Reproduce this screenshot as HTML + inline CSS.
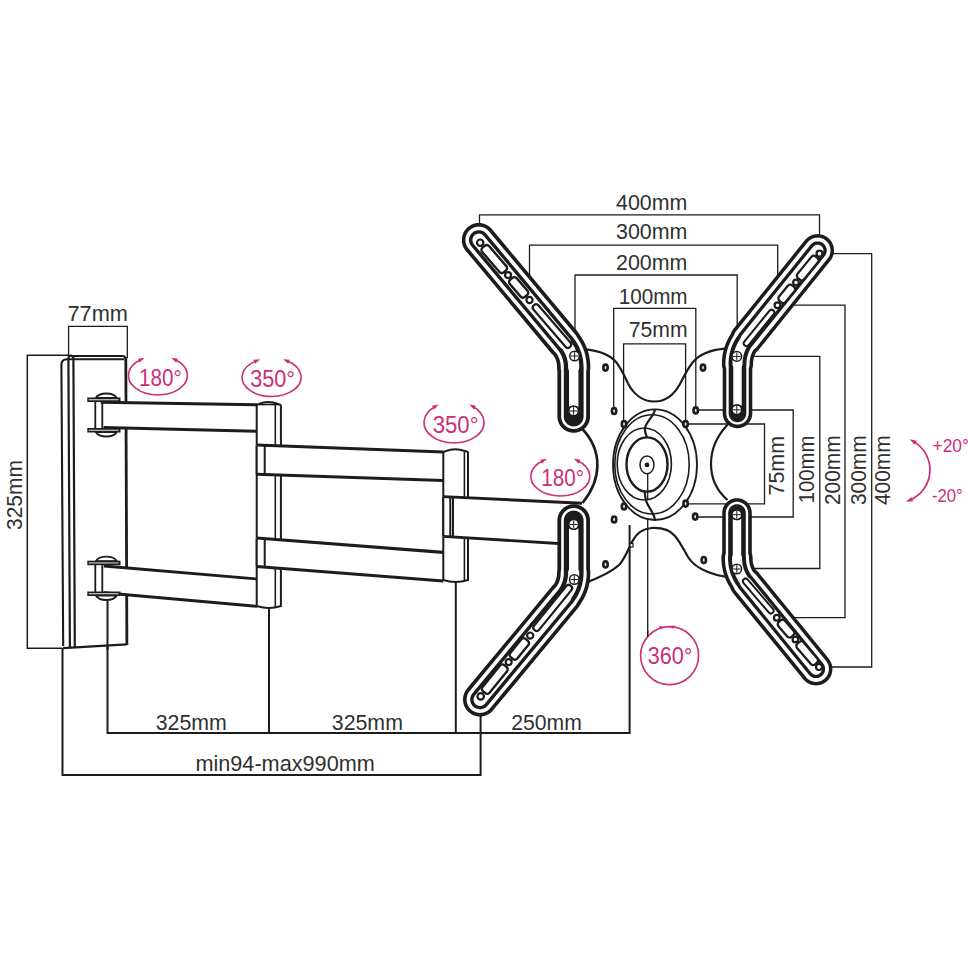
<!DOCTYPE html>
<html><head><meta charset="utf-8"><style>
html,body{margin:0;padding:0;background:#fff;}
svg{display:block;}
text{font-family:"Liberation Sans",sans-serif;}
</style></head><body>
<svg width="968" height="968" viewBox="0 0 968 968" font-family="Liberation Sans, sans-serif">
<rect width="968" height="968" fill="#fff"/>
<path d="M68.6,357 V326.4 H127.3 V358" fill="none" stroke="#1c1c1c" stroke-width="1.3"/>
<path d="M68.6,355.3 H27.3 V648.3 H62" fill="none" stroke="#1c1c1c" stroke-width="1.5"/>
<path d="M62.5,648 V775 H480.6 V712" fill="none" stroke="#1c1c1c" stroke-width="2.0"/>
<path d="M107.5,599 V733 H629.6 V525" fill="none" stroke="#1c1c1c" stroke-width="2.0"/>
<path d="M269,608 V733" fill="none" stroke="#1c1c1c" stroke-width="2.0"/>
<path d="M455.8,582 V733" fill="none" stroke="#1c1c1c" stroke-width="2.0"/>
<path d="M479.5,242 V214.8 H819.5 V252" fill="none" stroke="#1c1c1c" stroke-width="1.3"/>
<path d="M529.5,300 V245.2 H777.7 V305" fill="none" stroke="#1c1c1c" stroke-width="1.3"/>
<path d="M575,355 V275 H737.2 V356" fill="none" stroke="#1c1c1c" stroke-width="1.3"/>
<path d="M613.7,411 V308.4 H695.8 V410" fill="none" stroke="#1c1c1c" stroke-width="1.3"/>
<path d="M623.6,424 V343.8 H685.6 V424" fill="none" stroke="#1c1c1c" stroke-width="1.3"/>
<path d="M685.6,424 H764.5 V503.8 H685.6" fill="none" stroke="#1c1c1c" stroke-width="1.3"/>
<path d="M695.8,410 H793.2 V517 H695.4" fill="none" stroke="#1c1c1c" stroke-width="1.3"/>
<path d="M737,356.4 H819.8 V568.5 H736.6" fill="none" stroke="#1c1c1c" stroke-width="1.3"/>
<path d="M777.5,305.2 H845 V617.7 H776.8" fill="none" stroke="#1c1c1c" stroke-width="1.3"/>
<path d="M819.5,253.6 H871.7 V667 H819" fill="none" stroke="#1c1c1c" stroke-width="1.3"/>
<path d="M647.7,470 V637" fill="none" stroke="#1c1c1c" stroke-width="1.3"/>
<text x="67.5" y="320.7" font-size="21.6" fill="#303030" textLength="60.5" lengthAdjust="spacingAndGlyphs">77mm</text>
<text transform="translate(22.3,530) rotate(-90)" x="0" y="0" font-size="21.6" fill="#303030" textLength="70" lengthAdjust="spacingAndGlyphs">325mm</text>
<text x="155.7" y="729.6" font-size="21.6" fill="#303030" textLength="71.1" lengthAdjust="spacingAndGlyphs">325mm</text>
<text x="331.8" y="729.6" font-size="21.6" fill="#303030" textLength="71.1" lengthAdjust="spacingAndGlyphs">325mm</text>
<text x="511.2" y="729.6" font-size="21.6" fill="#303030" textLength="70.6" lengthAdjust="spacingAndGlyphs">250mm</text>
<text x="195.4" y="770.9" font-size="21.6" fill="#303030" textLength="179.4" lengthAdjust="spacingAndGlyphs">min94-max990mm</text>
<text x="616" y="209.8" font-size="21.6" fill="#303030" textLength="71.3" lengthAdjust="spacingAndGlyphs">400mm</text>
<text x="616" y="239.2" font-size="21.6" fill="#303030" textLength="71.3" lengthAdjust="spacingAndGlyphs">300mm</text>
<text x="616" y="270.2" font-size="21.6" fill="#303030" textLength="71.3" lengthAdjust="spacingAndGlyphs">200mm</text>
<text x="618.7" y="304" font-size="21.6" fill="#303030" textLength="68.9" lengthAdjust="spacingAndGlyphs">100mm</text>
<text x="628.7" y="336.6" font-size="21.6" fill="#303030" textLength="58.9" lengthAdjust="spacingAndGlyphs">75mm</text>
<text transform="translate(783.8,495.5) rotate(-90)" x="0" y="0" font-size="21.6" fill="#303030" textLength="59.5" lengthAdjust="spacingAndGlyphs">75mm</text>
<text transform="translate(814,503.3) rotate(-90)" x="0" y="0" font-size="21.6" fill="#303030" textLength="67.8" lengthAdjust="spacingAndGlyphs">100mm</text>
<text transform="translate(840.3,505) rotate(-90)" x="0" y="0" font-size="21.6" fill="#303030" textLength="69.5" lengthAdjust="spacingAndGlyphs">200mm</text>
<text transform="translate(866.4,505) rotate(-90)" x="0" y="0" font-size="21.6" fill="#303030" textLength="69.5" lengthAdjust="spacingAndGlyphs">300mm</text>
<text transform="translate(889.6,505) rotate(-90)" x="0" y="0" font-size="21.6" fill="#303030" textLength="69.5" lengthAdjust="spacingAndGlyphs">400mm</text>
<path d="M62.9,648 L61.4,365 Q61.4,359.2 67,359.2 L124,359.3 L126.9,644.4 Z" fill="#fff" stroke="none"/>
<path d="M62.9,648.2 L126.9,644.4" fill="none" stroke="#1c1c1c" stroke-width="2.2"/>
<path d="M63.2,646 L61.4,365 Q61.4,359.2 67,359.2 L124,359.3" fill="none" stroke="#1c1c1c" stroke-width="2.1"/>
<path d="M70.5,356 L122.5,356 Q125,356 125.8,359" fill="none" stroke="#1c1c1c" stroke-width="2.1"/>
<path d="M68.4,358 L69.9,647.5 M73.4,358 L74.8,647 M68.4,358 Q69,355.5 71,355.7 Q73.4,356 73.4,358.5" fill="none" stroke="#1c1c1c" stroke-width="2.2" stroke-linejoin="round"/>
<path d="M125.8,357.5 L126.9,645" fill="none" stroke="#1c1c1c" stroke-width="2.8"/>
<path d="M107.5,599 V650" fill="none" stroke="#1c1c1c" stroke-width="2"/>
<path d="M100.7,402.3 L257,404.8 L257,431.3 L103.6,427.5 Z" fill="#fff" stroke="none"/>
<path d="M100.7,402.3 L257,404.8 M103.6,427.5 L257,431.3" fill="none" stroke="#1c1c1c" stroke-width="2.9"/>
<path d="M103.9,566 L257.3,579 L257.3,606.4 L103.9,592.7 Z" fill="#fff" stroke="none"/>
<path d="M103.9,566 L257.3,579 M103.9,592.7 L257.3,606.4" fill="none" stroke="#1c1c1c" stroke-width="2.9"/>
<path d="M95.8,398 C99.3,392 113.3,392 116.8,398 Z" fill="#fff" stroke="#1c1c1c" stroke-width="1.8"/>
<path d="M95.8,432 C99.3,438 113.3,438 116.8,432 Z" fill="#fff" stroke="#1c1c1c" stroke-width="1.8"/>
<rect x="87.3" y="397.5" width="33.2" height="4.5" fill="#1c1c1c"/>
<path d="M88.8,399.75 H118.5" stroke="#fff" stroke-width="0.9"/>
<rect x="87.3" y="428" width="33.2" height="4.5" fill="#1c1c1c"/>
<path d="M88.8,430.25 H118.5" stroke="#fff" stroke-width="0.9"/>
<path d="M95.3,401.5 V428.5 M102.3,401.5 V428.5" fill="none" stroke="#1c1c1c" stroke-width="1.8"/>
<path d="M95.8,561.2 C99.3,555.2 113.3,555.2 116.8,561.2 Z" fill="#fff" stroke="#1c1c1c" stroke-width="1.8"/>
<path d="M95.8,595.5 C99.3,601.5 113.3,601.5 116.8,595.5 Z" fill="#fff" stroke="#1c1c1c" stroke-width="1.8"/>
<rect x="87.3" y="560.7" width="33.2" height="4.5" fill="#1c1c1c"/>
<path d="M88.8,562.95 H118.5" stroke="#fff" stroke-width="0.9"/>
<rect x="87.3" y="591.5" width="33.2" height="4.5" fill="#1c1c1c"/>
<path d="M88.8,593.75 H118.5" stroke="#fff" stroke-width="0.9"/>
<path d="M95.3,564.7 V592 M102.3,564.7 V592" fill="none" stroke="#1c1c1c" stroke-width="1.8"/>
<path d="M256.7,606 V406 Q256.7,404.5 259,404 Q268,400 278,404 Q280.9,404.5 280.9,406 V606 Q269,610 256.7,606 Z" fill="#fff" stroke="#1c1c1c" stroke-width="2"/>
<path d="M275.3,405 V607" fill="none" stroke="#1c1c1c" stroke-width="1.6"/>
<path d="M259,404.5 L279,404.5" fill="none" stroke="#1c1c1c" stroke-width="1.6"/>
<path d="M256.7,445 L443.3,452 L443.3,480.5 L256.7,474.3 Z" fill="#fff" stroke="none"/>
<path d="M256.7,445 L443.3,452 M256.7,474.3 L443.3,480.5" fill="none" stroke="#1c1c1c" stroke-width="3.1"/>
<path d="M256.7,538 L443.3,552.4 L443.3,581 L256.7,566.5 Z" fill="#fff" stroke="none"/>
<path d="M256.7,538 L443.3,552.4 M256.7,566.5 L443.3,581" fill="none" stroke="#1c1c1c" stroke-width="3.1"/>
<path d="M264.7,446 V474 M264.7,539 V566 M256.7,446 V474 M256.7,539 V566" fill="none" stroke="#1c1c1c" stroke-width="2"/>
<path d="M443.3,580 V453 Q443.3,451.5 446,451 Q455,447.5 465,451 Q468,451.5 468,453 V580 Q455.5,584 443.3,580 Z" fill="#fff" stroke="#1c1c1c" stroke-width="2"/>
<path d="M464.4,452 V581" fill="none" stroke="#1c1c1c" stroke-width="1.6"/>
<path d="M443.3,496.6 L582,503.2 L566,544 L443.3,536.4 Z" fill="#fff" stroke="none"/>
<path d="M443.3,496.6 L582,503.2 M443.3,536.4 L566,544" fill="none" stroke="#1c1c1c" stroke-width="2.9"/>
<path d="M450.3,497 V536 M453,497.5 V536.5 M443.3,497 V536" fill="none" stroke="#1c1c1c" stroke-width="2"/>
<path d="M586,349.4 C600,351 610,355 616,362 C621,368 624,375 628,383.4 C633,393 642,401.5 654.4,401.5 C667,401.5 675,393 680,384 C684,376 688,368 693,362 C699,355 710,350 725,348.7" fill="none" stroke="#1c1c1c" stroke-width="2.2"/>
<path d="M581.5,428 C593,440 597.4,452 597.4,465 C597.4,478 593,490 582.5,503" fill="none" stroke="#1c1c1c" stroke-width="2.6"/>
<path d="M727.5,424.8 C716,437 711,450 711,464 C711,478 716,490 727.5,500" fill="none" stroke="#1c1c1c" stroke-width="2.2"/>
<path d="M586,582.6 C598,578 612,572 620,564 C625,558 628,550 632,542 C636,534 642,528.5 652,528 C662,527.6 670,530 675,536 C680,542 684,550 688,557 C693,565 700,569 708,572 C714,574.5 719,575.8 725,576.6" fill="none" stroke="#1c1c1c" stroke-width="2.2"/>
<rect x="630" y="543.5" width="3" height="3.5" fill="#fff" stroke="#1c1c1c" stroke-width="1.2"/>
<ellipse cx="655" cy="464.7" rx="42" ry="55.3" fill="#fff" stroke="#1c1c1c" stroke-width="1.8"/>
<ellipse cx="652" cy="464.4" rx="37.2" ry="49.6" fill="none" stroke="#1c1c1c" stroke-width="1.6"/>
<ellipse cx="644.3" cy="464" rx="27.1" ry="36" fill="none" stroke="#1c1c1c" stroke-width="1.6"/>
<ellipse cx="647" cy="464.5" rx="20.5" ry="27.1" fill="none" stroke="#1c1c1c" stroke-width="2.4"/>
<ellipse cx="647" cy="464.8" rx="7" ry="8.9" fill="none" stroke="#1c1c1c" stroke-width="1.5"/>
<circle cx="647" cy="464.9" r="2.4" fill="#1c1c1c"/>
<path d="M655,409.5 C654,416 646,422 645,428 C644.5,432 646,435 647,437.5 M645,491 C644.5,495 645.5,498 646,500 C647,506 654,512 655,520" fill="none" stroke="#1c1c1c" stroke-width="2.2"/>
<path d="M647.7,474 V500" fill="none" stroke="#1c1c1c" stroke-width="1.3"/>
<ellipse cx="605.5" cy="367.6" rx="2.2" ry="3" fill="#eee" stroke="#1c1c1c" stroke-width="2.6"/>
<ellipse cx="703" cy="367.6" rx="2.2" ry="3" fill="#eee" stroke="#1c1c1c" stroke-width="2.6"/>
<ellipse cx="614.1" cy="411" rx="2.2" ry="3" fill="#eee" stroke="#1c1c1c" stroke-width="2.6"/>
<ellipse cx="695.7" cy="410.4" rx="2.2" ry="3" fill="#eee" stroke="#1c1c1c" stroke-width="2.6"/>
<ellipse cx="624" cy="424" rx="2.2" ry="3" fill="#eee" stroke="#1c1c1c" stroke-width="2.6"/>
<ellipse cx="685.6" cy="424" rx="2.2" ry="3" fill="#eee" stroke="#1c1c1c" stroke-width="2.6"/>
<ellipse cx="624" cy="506.5" rx="2.2" ry="3" fill="#eee" stroke="#1c1c1c" stroke-width="2.6"/>
<ellipse cx="685.6" cy="503.6" rx="2.2" ry="3" fill="#eee" stroke="#1c1c1c" stroke-width="2.6"/>
<ellipse cx="614.1" cy="519.5" rx="2.2" ry="3" fill="#eee" stroke="#1c1c1c" stroke-width="2.6"/>
<ellipse cx="695.2" cy="516.6" rx="2.2" ry="3" fill="#eee" stroke="#1c1c1c" stroke-width="2.6"/>
<ellipse cx="605.5" cy="564.4" rx="2.2" ry="3" fill="#eee" stroke="#1c1c1c" stroke-width="2.6"/>
<ellipse cx="703.8" cy="560" rx="2.2" ry="3" fill="#eee" stroke="#1c1c1c" stroke-width="2.6"/>
<path d="M552.77,354.84 L552.86,354.93 L553.23,355.26 L553.69,355.81 L554.22,356.66 L554.29,356.78 L554.81,357.74 L554.88,357.87 L555.33,358.83 L555.39,358.96 L555.77,359.93 L555.82,360.07 L556.15,361.06 L556.19,361.2 L556.46,362.22 L556.49,362.37 L556.7,363.43 L556.73,363.57 L556.89,364.7 L556.9,364.84 L557,366.03 L557.01,366.17 L557.06,367.92 L557.06,367.98 L557.18,369.52 L557.19,369.64 L557.36,370.61 L557.4,371.05 L557.4,416.47 L557.4,416.53 L557.48,418.04 L557.49,418.16 L557.7,419.62 L557.73,419.74 L558.09,421.17 L558.12,421.29 L558.62,422.68 L558.67,422.79 L559.3,424.13 L559.36,424.24 L560.12,425.5 L560.18,425.61 L561.06,426.79 L561.14,426.89 L562.13,427.98 L562.22,428.07 L563.31,429.06 L563.41,429.14 L564.59,430.02 L564.7,430.08 L565.96,430.84 L566.07,430.9 L567.41,431.53 L567.52,431.58 L568.91,432.08 L569.03,432.11 L570.46,432.47 L570.58,432.5 L572.04,432.71 L572.16,432.72 L573.64,432.8 L573.76,432.8 L575.24,432.72 L575.36,432.71 L576.82,432.5 L576.94,432.47 L578.37,432.11 L578.49,432.08 L579.88,431.58 L579.99,431.53 L581.33,430.9 L581.44,430.84 L582.7,430.08 L582.81,430.02 L583.99,429.14 L584.09,429.06 L585.18,428.07 L585.27,427.98 L586.26,426.89 L586.34,426.79 L587.22,425.61 L587.28,425.5 L588.04,424.24 L588.1,424.13 L588.73,422.79 L588.78,422.68 L589.28,421.29 L589.31,421.17 L589.67,419.74 L589.7,419.62 L589.91,418.16 L589.92,418.04 L590,416.53 L590,416.47 L590,371.08 L590.06,370.54 L590.1,370.37 L590.12,370.25 L590.3,368.75 L590.31,368.62 L590.34,367.08 L590.34,367.02 L590.28,364.76 L590.28,364.72 L590.23,363.84 L590.23,363.8 L590.05,361.57 L590.04,361.54 L589.94,360.63 L589.94,360.59 L589.63,358.41 L589.62,358.37 L589.47,357.45 L589.46,357.41 L589.03,355.27 L589.02,355.23 L588.81,354.3 L588.8,354.27 L588.25,352.17 L588.24,352.14 L587.96,351.21 L587.95,351.18 L587.28,349.13 L587.26,349.09 L586.93,348.18 L586.92,348.15 L586.12,346.14 L586.11,346.11 L585.73,345.22 L585.71,345.19 L584.79,343.23 L584.77,343.19 L584.34,342.34 L584.33,342.31 L583.28,340.39 L583.26,340.36 L582.79,339.55 L582.77,339.52 L581.61,337.65 L581.59,337.62 L581.08,336.85 L581.06,336.82 L580.06,335.4 L579.85,335.04 L579.67,334.66 L579.61,334.56 L578.8,333.24 L578.73,333.14 L577.78,331.88 L577.74,331.83 L491.86,229.12 L491.82,229.07 L490.75,227.91 L490.66,227.83 L489.51,226.8 L489.41,226.72 L488.16,225.82 L488.06,225.75 L486.73,224.97 L486.62,224.91 L485.22,224.26 L485.1,224.21 L483.64,223.71 L483.53,223.67 L482.02,223.31 L481.9,223.29 L480.37,223.08 L480.25,223.06 L478.71,223 L478.58,223 L477.04,223.09 L476.92,223.11 L475.39,223.35 L475.27,223.37 L473.78,223.76 L473.66,223.8 L472.21,224.33 L472.1,224.38 L470.7,225.05 L470.6,225.11 L469.28,225.92 L469.18,225.99 L467.94,226.92 L467.85,227 L466.71,228.05 L466.63,228.14 L465.6,229.29 L465.52,229.39 L464.62,230.64 L464.55,230.74 L463.77,232.07 L463.71,232.18 L463.06,233.58 L463.01,233.7 L462.51,235.16 L462.47,235.27 L462.11,236.78 L462.09,236.9 L461.88,238.43 L461.86,238.55 L461.8,240.09 L461.8,240.22 L461.89,241.76 L461.91,241.88 L462.15,243.41 L462.17,243.53 L462.56,245.02 L462.6,245.14 L463.13,246.59 L463.18,246.7 L463.85,248.1 L463.91,248.2 L464.72,249.52 L464.79,249.62 L465.74,250.88 L465.78,250.93 L551.66,353.64 L551.7,353.69 Z" fill="#1c1c1c"/>
<path d="M555.29,352.28 L555.38,352.36 L556.28,353.17 L556.74,353.71 L557.42,354.79 L557.49,354.92 L558.11,356.07 L558.18,356.2 L558.72,357.35 L558.78,357.49 L559.25,358.67 L559.3,358.81 L559.69,360.01 L559.74,360.15 L560.06,361.38 L560.1,361.53 L560.35,362.81 L560.38,362.95 L560.57,364.29 L560.58,364.43 L560.7,365.83 L560.7,365.97 L560.75,367.82 L560.76,367.88 L560.85,369.06 L560.86,369.18 L561.06,370.31 L561.09,370.43 L561.11,370.5 L561.2,371.17 L561.2,416.47 L561.2,416.53 L561.26,417.66 L561.27,417.79 L561.43,418.88 L561.46,419 L561.72,420.07 L561.76,420.19 L562.13,421.23 L562.18,421.34 L562.65,422.34 L562.71,422.45 L563.28,423.39 L563.34,423.49 L564,424.38 L564.08,424.48 L564.82,425.29 L564.91,425.38 L565.72,426.12 L565.82,426.2 L566.71,426.86 L566.81,426.92 L567.75,427.49 L567.86,427.55 L568.86,428.02 L568.97,428.07 L570.01,428.44 L570.13,428.48 L571.2,428.74 L571.32,428.77 L572.41,428.93 L572.54,428.94 L573.64,429 L573.76,429 L574.86,428.94 L574.99,428.93 L576.08,428.77 L576.2,428.74 L577.27,428.48 L577.39,428.44 L578.43,428.07 L578.54,428.02 L579.54,427.55 L579.65,427.49 L580.59,426.92 L580.69,426.86 L581.58,426.2 L581.68,426.12 L582.49,425.38 L582.58,425.29 L583.32,424.48 L583.4,424.38 L584.06,423.49 L584.12,423.39 L584.69,422.45 L584.75,422.34 L585.22,421.34 L585.27,421.23 L585.64,420.19 L585.68,420.07 L585.94,419 L585.97,418.88 L586.13,417.79 L586.14,417.66 L586.2,416.53 L586.2,416.47 L586.2,371.15 L586.26,370.61 L586.45,369.74 L586.47,369.62 L586.61,368.48 L586.62,368.36 L586.64,367.18 L586.64,367.12 L586.58,364.86 L586.58,364.82 L586.54,364.14 L586.54,364.11 L586.36,361.88 L586.35,361.84 L586.28,361.14 L586.27,361.11 L585.97,358.92 L585.96,358.88 L585.84,358.17 L585.83,358.14 L585.4,356 L585.39,355.96 L585.23,355.25 L585.22,355.21 L584.67,353.12 L584.66,353.08 L584.45,352.37 L584.44,352.33 L583.76,350.28 L583.75,350.25 L583.5,349.55 L583.48,349.51 L582.68,347.51 L582.67,347.47 L582.38,346.79 L582.36,346.76 L581.44,344.8 L581.42,344.76 L581.09,344.11 L581.08,344.08 L580.03,342.16 L580.01,342.13 L579.65,341.51 L579.63,341.47 L578.47,339.6 L578.45,339.57 L578.06,338.98 L578.04,338.95 L577.23,337.81 L577.02,337.45 L576.51,336.39 L576.45,336.28 L575.82,335.27 L575.76,335.16 L575.02,334.19 L574.98,334.14 L489.1,231.43 L489.06,231.38 L488.23,230.48 L488.14,230.4 L487.25,229.61 L487.16,229.53 L486.19,228.83 L486.09,228.76 L485.06,228.16 L484.95,228.1 L483.87,227.6 L483.76,227.55 L482.63,227.16 L482.51,227.13 L481.35,226.85 L481.23,226.83 L480.05,226.66 L479.93,226.65 L478.74,226.6 L478.62,226.6 L477.43,226.67 L477.3,226.69 L476.13,226.87 L476.01,226.9 L474.85,227.2 L474.74,227.23 L473.62,227.65 L473.5,227.69 L472.43,228.21 L472.32,228.27 L471.31,228.89 L471.2,228.96 L470.25,229.68 L470.16,229.76 L469.28,230.57 L469.2,230.66 L468.41,231.55 L468.33,231.64 L467.63,232.61 L467.56,232.71 L466.96,233.74 L466.9,233.85 L466.4,234.93 L466.35,235.04 L465.96,236.17 L465.93,236.29 L465.65,237.45 L465.63,237.57 L465.46,238.75 L465.45,238.87 L465.4,240.06 L465.4,240.18 L465.47,241.37 L465.49,241.5 L465.67,242.67 L465.7,242.79 L466,243.95 L466.03,244.06 L466.45,245.18 L466.49,245.3 L467.01,246.37 L467.07,246.48 L467.69,247.49 L467.76,247.6 L468.5,248.57 L468.54,248.62 L554.42,351.33 L554.46,351.38 Z" fill="#fff"/>
<path d="M486.34,233.74 L486.3,233.69 L485.71,233.05 L485.62,232.97 L484.99,232.41 L484.9,232.33 L484.22,231.84 L484.12,231.77 L483.39,231.35 L483.28,231.29 L482.52,230.94 L482.41,230.89 L481.62,230.62 L481.5,230.58 L480.68,230.39 L480.56,230.36 L479.73,230.25 L479.61,230.24 L478.77,230.2 L478.65,230.2 L477.81,230.25 L477.69,230.27 L476.86,230.4 L476.74,230.42 L475.93,230.63 L475.81,230.67 L475.02,230.96 L474.91,231.01 L474.16,231.37 L474.05,231.43 L473.33,231.87 L473.23,231.94 L472.56,232.44 L472.47,232.52 L471.85,233.09 L471.77,233.18 L471.21,233.81 L471.13,233.9 L470.64,234.58 L470.57,234.68 L470.15,235.41 L470.09,235.52 L469.74,236.28 L469.69,236.39 L469.42,237.18 L469.38,237.3 L469.19,238.12 L469.16,238.24 L469.05,239.07 L469.04,239.19 L469,240.03 L469,240.15 L469.05,240.99 L469.07,241.11 L469.2,241.94 L469.22,242.06 L469.43,242.87 L469.47,242.99 L469.76,243.78 L469.81,243.89 L470.17,244.64 L470.23,244.75 L470.67,245.47 L470.74,245.57 L471.26,246.26 L471.3,246.31 L556.58,348.3 L556.7,348.45 L556.98,348.85 L557.01,348.9 L558.22,350.42 L558.3,350.53 L559.21,351.82 L559.29,351.94 L560.1,353.23 L560.17,353.36 L560.88,354.67 L560.95,354.8 L561.57,356.12 L561.63,356.26 L562.16,357.61 L562.22,357.75 L562.67,359.13 L562.71,359.27 L563.08,360.68 L563.12,360.83 L563.41,362.29 L563.43,362.43 L563.65,363.94 L563.66,364.09 L563.79,365.66 L563.8,365.8 L563.83,366.8 L563.83,366.99 L563.8,367.47 L563.8,367.53 L563.8,416.47 L563.8,416.53 L563.84,417.41 L563.86,417.53 L563.98,418.37 L564.01,418.49 L564.21,419.31 L564.25,419.43 L564.53,420.23 L564.58,420.34 L564.94,421.11 L565,421.22 L565.44,421.95 L565.51,422.05 L566.01,422.73 L566.09,422.83 L566.66,423.45 L566.75,423.54 L567.37,424.11 L567.47,424.19 L568.15,424.69 L568.25,424.76 L568.98,425.2 L569.09,425.26 L569.86,425.62 L569.97,425.67 L570.77,425.95 L570.89,425.99 L571.71,426.19 L571.83,426.22 L572.67,426.34 L572.79,426.36 L573.64,426.4 L573.76,426.4 L574.61,426.36 L574.73,426.34 L575.57,426.22 L575.69,426.19 L576.51,425.99 L576.63,425.95 L577.43,425.67 L577.54,425.62 L578.31,425.26 L578.42,425.2 L579.15,424.76 L579.25,424.69 L579.93,424.19 L580.03,424.11 L580.65,423.54 L580.74,423.45 L581.31,422.83 L581.39,422.73 L581.89,422.05 L581.96,421.95 L582.4,421.22 L582.46,421.11 L582.82,420.34 L582.87,420.23 L583.15,419.43 L583.19,419.31 L583.39,418.49 L583.42,418.37 L583.54,417.53 L583.56,417.41 L583.6,416.53 L583.6,416.47 L583.6,367.53 L583.6,367.47 L583.56,366.59 L583.54,366.41 L583.54,366.41 L583.52,366.17 L583.48,364.94 L583.48,364.91 L583.46,364.4 L583.45,364.36 L583.27,362.13 L583.27,362.1 L583.21,361.57 L583.2,361.54 L582.9,359.35 L582.89,359.32 L582.8,358.78 L582.79,358.75 L582.36,356.61 L582.36,356.57 L582.23,356.04 L582.22,356 L581.67,353.91 L581.66,353.87 L581.5,353.34 L581.49,353.3 L580.82,351.25 L580.8,351.22 L580.61,350.69 L580.6,350.66 L579.8,348.65 L579.79,348.62 L579.57,348.11 L579.55,348.07 L578.63,346.12 L578.62,346.08 L578.37,345.59 L578.35,345.56 L577.31,343.64 L577.29,343.61 L577.02,343.14 L577,343.11 L575.84,341.24 L575.82,341.21 L575.52,340.77 L575.5,340.74 L574.22,338.91 L574.19,338.88 L573.89,338.47 L573.87,338.45 L572.46,336.67 L572.42,336.62 L571.85,335.97 L571.72,335.83 L571.72,335.83 L571.56,335.66 Z" fill="#1c1c1c"/>
<path d="M560.19,347.28 L560.28,347.37 L560.66,347.7 L560.75,347.78 L561.16,348.08 L561.27,348.14 L561.7,348.4 L561.74,348.42 L562.22,348.75 L562.62,349.19 L562.79,349.44 L562.87,349.56 L563.81,351.07 L563.89,351.19 L564.72,352.72 L564.79,352.86 L565.52,354.41 L565.58,354.55 L566.21,356.14 L566.26,356.28 L566.79,357.9 L566.84,358.05 L567.27,359.71 L567.31,359.86 L567.65,361.56 L567.68,361.71 L567.92,363.47 L567.94,363.61 L568.09,365.42 L568.1,365.56 L568.15,367.62 L568.15,367.68 L568.19,368.13 L568.2,368.25 L568.28,368.67 L568.3,368.79 L568.42,369.19 L568.46,369.31 L568.61,369.7 L568.66,369.82 L568.73,369.96 L568.93,370.51 L569,371.09 L569,416.47 L569,416.53 L569.02,416.9 L569.03,417.02 L569.08,417.36 L569.11,417.48 L569.19,417.8 L569.22,417.92 L569.34,418.24 L569.38,418.35 L569.53,418.66 L569.59,418.77 L569.76,419.06 L569.83,419.16 L570.03,419.43 L570.11,419.53 L570.34,419.78 L570.42,419.86 L570.67,420.09 L570.77,420.17 L571.04,420.37 L571.14,420.44 L571.43,420.61 L571.54,420.67 L571.85,420.82 L571.96,420.86 L572.28,420.98 L572.4,421.01 L572.72,421.09 L572.84,421.12 L573.18,421.17 L573.3,421.18 L573.64,421.2 L573.76,421.2 L574.1,421.18 L574.22,421.17 L574.56,421.12 L574.68,421.09 L575,421.01 L575.12,420.98 L575.44,420.86 L575.55,420.82 L575.86,420.67 L575.97,420.61 L576.26,420.44 L576.36,420.37 L576.63,420.17 L576.73,420.09 L576.98,419.86 L577.06,419.78 L577.29,419.53 L577.37,419.43 L577.57,419.16 L577.64,419.06 L577.81,418.77 L577.87,418.66 L578.02,418.35 L578.06,418.24 L578.18,417.92 L578.21,417.8 L578.29,417.48 L578.32,417.36 L578.37,417.02 L578.38,416.9 L578.4,416.53 L578.4,416.47 L578.4,371.09 L578.47,370.52 L578.66,369.98 L578.69,369.93 L578.86,369.54 L578.9,369.43 L579.03,369.03 L579.07,368.91 L579.16,368.5 L579.18,368.37 L579.23,367.96 L579.24,367.83 L579.25,367.38 L579.25,367.32 L579.19,365.06 L579.18,365.02 L579.17,364.75 L579.17,364.72 L578.98,362.48 L578.98,362.45 L578.95,362.17 L578.94,362.13 L578.64,359.95 L578.63,359.91 L578.58,359.63 L578.58,359.59 L578.15,357.45 L578.14,357.42 L578.07,357.13 L578.06,357.1 L577.51,355 L577.5,354.97 L577.42,354.68 L577.41,354.65 L576.73,352.6 L576.72,352.56 L576.62,352.28 L576.61,352.25 L575.81,350.24 L575.79,350.21 L575.68,349.94 L575.66,349.9 L574.74,347.94 L574.72,347.91 L574.59,347.65 L574.57,347.61 L573.53,345.7 L573.51,345.67 L573.37,345.42 L573.35,345.38 L572.18,343.51 L572.17,343.48 L572.01,343.25 L571.99,343.22 L571.38,342.35 L571.13,341.91 L570.98,341.42 L570.97,341.39 L570.84,340.91 L570.81,340.79 L570.63,340.31 L570.58,340.2 L570.36,339.75 L570.3,339.64 L570.04,339.21 L569.97,339.11 L569.65,338.68 L569.61,338.63 L483.73,235.92 L483.69,235.87 L483.33,235.48 L483.24,235.39 L482.86,235.06 L482.77,234.98 L482.36,234.68 L482.25,234.62 L481.82,234.36 L481.71,234.3 L481.25,234.09 L481.14,234.04 L480.66,233.88 L480.54,233.84 L480.05,233.73 L479.93,233.7 L479.43,233.63 L479.31,233.62 L478.8,233.6 L478.68,233.6 L478.18,233.63 L478.05,233.65 L477.55,233.73 L477.43,233.75 L476.95,233.88 L476.83,233.91 L476.35,234.09 L476.24,234.14 L475.79,234.36 L475.68,234.42 L475.25,234.68 L475.15,234.75 L474.74,235.05 L474.65,235.13 L474.28,235.47 L474.19,235.56 L473.86,235.94 L473.78,236.03 L473.48,236.44 L473.42,236.55 L473.16,236.98 L473.1,237.09 L472.89,237.55 L472.84,237.66 L472.68,238.14 L472.64,238.26 L472.53,238.75 L472.5,238.87 L472.43,239.37 L472.42,239.49 L472.4,240 L472.4,240.12 L472.43,240.62 L472.45,240.75 L472.53,241.25 L472.55,241.37 L472.68,241.85 L472.71,241.97 L472.89,242.45 L472.94,242.56 L473.16,243.01 L473.22,243.12 L473.48,243.55 L473.55,243.65 L473.87,244.08 L473.91,244.13 L559.79,346.84 L559.83,346.89 Z" fill="#fff"/>
<circle cx="480.2" cy="242.7" r="3.2" fill="#fff" stroke="#1c1c1c" stroke-width="2.2"/>
<rect x="-16.25" y="-4.5" width="32.5" height="9" rx="3" fill="#fff" stroke="#1c1c1c" stroke-width="2.4" transform="translate(494.25,259.03) rotate(49.29)"/>
<circle cx="508.05" cy="275.07" r="3" fill="#fff" stroke="#1c1c1c" stroke-width="2.2"/>
<rect x="-11.34" y="-4.5" width="22.68" height="9" rx="3" fill="#fff" stroke="#1c1c1c" stroke-width="2.4" transform="translate(518.65,287.39) rotate(49.29)"/>
<circle cx="529.5" cy="300" r="3.1" fill="#fff" stroke="#1c1c1c" stroke-width="2.2"/>
<rect x="-27.59" y="-3.25" width="55.18" height="6.5" rx="3" fill="#fff" stroke="#1c1c1c" stroke-width="2.2" transform="translate(551.93,326.07) rotate(49.29)"/>
<circle cx="573.65" cy="413.75" r="8.35" fill="#1c1c1c"/>
<circle cx="574.6" cy="356" r="4.8" fill="#fff" stroke="#1c1c1c" stroke-width="1.5"/>
<path d="M570.8,356 H578.4 M574.6,352.2 V359.8" stroke="#1c1c1c" stroke-width="1"/>
<circle cx="573.6" cy="411" r="4.8" fill="#fff" stroke="#1c1c1c" stroke-width="1.5"/>
<path d="M569.8,411 H577.4 M573.6,407.2 V414.8" stroke="#1c1c1c" stroke-width="1"/>
<path d="M553.69,584.36 L553.23,584.91 L552.85,585.25 L552.76,585.33 L551.7,586.49 L551.66,586.54 L466.94,688.62 L466.9,688.67 L465.95,689.93 L465.89,690.03 L465.08,691.35 L465.03,691.46 L464.36,692.85 L464.31,692.97 L463.78,694.42 L463.74,694.54 L463.36,696.03 L463.34,696.15 L463.1,697.68 L463.09,697.8 L463,699.35 L463,699.47 L463.07,701.01 L463.08,701.13 L463.3,702.66 L463.32,702.78 L463.69,704.29 L463.73,704.4 L464.24,705.86 L464.28,705.97 L464.94,707.38 L464.99,707.48 L465.78,708.81 L465.85,708.92 L466.76,710.16 L466.84,710.26 L467.87,711.41 L467.96,711.5 L469.1,712.54 L469.19,712.62 L470.43,713.55 L470.53,713.61 L471.85,714.42 L471.96,714.47 L473.35,715.14 L473.47,715.19 L474.92,715.72 L475.04,715.76 L476.53,716.14 L476.65,716.16 L478.18,716.4 L478.3,716.41 L479.85,716.5 L479.97,716.5 L481.51,716.43 L481.63,716.42 L483.16,716.2 L483.28,716.18 L484.79,715.81 L484.9,715.77 L486.36,715.26 L486.47,715.22 L487.88,714.56 L487.98,714.51 L489.31,713.72 L489.42,713.65 L490.66,712.74 L490.76,712.66 L491.91,711.63 L492,711.54 L493.06,710.38 L493.1,710.33 L577.82,608.25 L577.86,608.21 L578.8,606.94 L578.87,606.84 L579.68,605.52 L579.73,605.41 L579.92,605.04 L580.12,604.68 L581.12,603.25 L581.14,603.23 L581.64,602.46 L581.66,602.43 L582.82,600.56 L582.84,600.53 L583.31,599.72 L583.33,599.69 L584.36,597.77 L584.38,597.73 L584.81,596.89 L584.82,596.85 L585.74,594.89 L585.75,594.85 L586.13,593.97 L586.15,593.94 L586.94,591.93 L586.96,591.9 L587.28,590.99 L587.29,590.95 L587.97,588.9 L587.98,588.87 L588.25,587.95 L588.26,587.91 L588.81,585.81 L588.82,585.78 L589.03,584.85 L589.04,584.82 L589.47,582.68 L589.47,582.64 L589.63,581.72 L589.63,581.68 L589.94,579.5 L589.94,579.46 L590.04,578.56 L590.05,578.52 L590.23,576.29 L590.23,576.26 L590.28,575.38 L590.28,575.34 L590.34,573.08 L590.34,573.02 L590.31,571.47 L590.3,571.35 L590.12,569.85 L590.1,569.73 L590.06,569.56 L590,569.02 L590,520.53 L590,520.47 L589.92,518.96 L589.91,518.84 L589.7,517.38 L589.67,517.26 L589.31,515.83 L589.28,515.71 L588.78,514.32 L588.73,514.21 L588.1,512.87 L588.04,512.76 L587.28,511.5 L587.22,511.39 L586.34,510.21 L586.26,510.11 L585.27,509.02 L585.18,508.93 L584.09,507.94 L583.99,507.86 L582.81,506.98 L582.7,506.92 L581.44,506.16 L581.33,506.1 L579.99,505.47 L579.88,505.42 L578.49,504.92 L578.37,504.89 L576.94,504.53 L576.82,504.5 L575.36,504.29 L575.24,504.28 L573.76,504.2 L573.64,504.2 L572.16,504.28 L572.04,504.29 L570.58,504.5 L570.46,504.53 L569.03,504.89 L568.91,504.92 L567.52,505.42 L567.41,505.47 L566.07,506.1 L565.96,506.16 L564.7,506.92 L564.59,506.98 L563.41,507.86 L563.31,507.94 L562.22,508.93 L562.13,509.02 L561.14,510.11 L561.06,510.21 L560.18,511.39 L560.12,511.5 L559.36,512.76 L559.3,512.87 L558.67,514.21 L558.62,514.32 L558.12,515.71 L558.09,515.83 L557.73,517.26 L557.7,517.38 L557.49,518.84 L557.48,518.96 L557.4,520.47 L557.4,520.53 L557.4,569.05 L557.36,569.49 L557.19,570.46 L557.18,570.58 L557.06,572.12 L557.06,572.18 L557.01,573.94 L557,574.07 L556.9,575.27 L556.89,575.41 L556.73,576.54 L556.7,576.68 L556.49,577.76 L556.46,577.9 L556.19,578.93 L556.15,579.07 L555.82,580.07 L555.77,580.21 L555.38,581.18 L555.33,581.32 L554.88,582.28 L554.81,582.41 L554.29,583.38 L554.22,583.5 Z" fill="#1c1c1c"/>
<path d="M556.75,586.44 L556.29,586.99 L555.38,587.8 L555.29,587.89 L554.47,588.79 L554.43,588.84 L469.71,690.92 L469.67,690.97 L468.94,691.95 L468.87,692.05 L468.25,693.07 L468.19,693.17 L467.67,694.25 L467.63,694.36 L467.22,695.48 L467.18,695.6 L466.89,696.75 L466.86,696.87 L466.68,698.05 L466.67,698.17 L466.6,699.36 L466.6,699.49 L466.65,700.68 L466.67,700.8 L466.83,701.98 L466.86,702.1 L467.14,703.26 L467.18,703.38 L467.57,704.5 L467.62,704.62 L468.12,705.7 L468.18,705.8 L468.79,706.83 L468.85,706.93 L469.56,707.89 L469.64,707.99 L470.43,708.88 L470.52,708.96 L471.4,709.77 L471.49,709.85 L472.45,710.56 L472.55,710.63 L473.57,711.25 L473.67,711.31 L474.75,711.83 L474.86,711.87 L475.98,712.28 L476.1,712.32 L477.25,712.61 L477.37,712.64 L478.55,712.82 L478.67,712.83 L479.86,712.9 L479.99,712.9 L481.18,712.85 L481.3,712.83 L482.48,712.67 L482.6,712.64 L483.76,712.36 L483.88,712.32 L485,711.93 L485.12,711.88 L486.2,711.38 L486.3,711.32 L487.33,710.71 L487.43,710.65 L488.39,709.94 L488.49,709.86 L489.38,709.07 L489.46,708.98 L490.29,708.08 L490.33,708.03 L575.05,605.95 L575.09,605.91 L575.82,604.93 L575.89,604.83 L576.51,603.81 L576.57,603.7 L577.08,602.64 L577.28,602.28 L578.09,601.13 L578.11,601.1 L578.5,600.52 L578.51,600.49 L579.68,598.61 L579.69,598.58 L580.05,597.96 L580.07,597.93 L581.11,596.01 L581.13,595.97 L581.45,595.32 L581.47,595.29 L582.39,593.33 L582.4,593.29 L582.69,592.61 L582.71,592.58 L583.5,590.57 L583.51,590.54 L583.77,589.84 L583.78,589.8 L584.45,587.75 L584.46,587.72 L584.67,587.01 L584.68,586.97 L585.23,584.88 L585.24,584.84 L585.4,584.13 L585.41,584.09 L585.84,581.95 L585.84,581.92 L585.96,581.21 L585.97,581.17 L586.27,578.99 L586.28,578.95 L586.36,578.26 L586.36,578.22 L586.54,575.99 L586.55,575.95 L586.58,575.28 L586.58,575.24 L586.64,572.98 L586.64,572.92 L586.62,571.74 L586.61,571.62 L586.47,570.48 L586.45,570.36 L586.26,569.49 L586.2,568.95 L586.2,520.53 L586.2,520.47 L586.14,519.34 L586.13,519.21 L585.97,518.12 L585.94,518 L585.68,516.93 L585.64,516.81 L585.27,515.77 L585.22,515.66 L584.75,514.66 L584.69,514.55 L584.12,513.61 L584.06,513.51 L583.4,512.62 L583.32,512.52 L582.58,511.71 L582.49,511.62 L581.68,510.88 L581.58,510.8 L580.69,510.14 L580.59,510.08 L579.65,509.51 L579.54,509.45 L578.54,508.98 L578.43,508.93 L577.39,508.56 L577.27,508.52 L576.2,508.26 L576.08,508.23 L574.99,508.07 L574.86,508.06 L573.76,508 L573.64,508 L572.54,508.06 L572.41,508.07 L571.32,508.23 L571.2,508.26 L570.13,508.52 L570.01,508.56 L568.97,508.93 L568.86,508.98 L567.86,509.45 L567.75,509.51 L566.81,510.08 L566.71,510.14 L565.82,510.8 L565.72,510.88 L564.91,511.62 L564.82,511.71 L564.08,512.52 L564,512.62 L563.34,513.51 L563.28,513.61 L562.71,514.55 L562.65,514.66 L562.18,515.66 L562.13,515.77 L561.76,516.81 L561.72,516.93 L561.46,518 L561.43,518.12 L561.27,519.21 L561.26,519.34 L561.2,520.47 L561.2,520.53 L561.2,568.93 L561.11,569.6 L561.09,569.67 L561.06,569.79 L560.86,570.92 L560.85,571.05 L560.76,572.22 L560.75,572.28 L560.7,574.14 L560.7,574.27 L560.58,575.68 L560.57,575.82 L560.38,577.16 L560.35,577.3 L560.1,578.59 L560.06,578.73 L559.74,579.97 L559.7,580.12 L559.3,581.32 L559.25,581.46 L558.78,582.64 L558.73,582.78 L558.18,583.94 L558.12,584.08 L557.49,585.23 L557.42,585.36 Z" fill="#fff"/>
<path d="M571.78,604.27 L571.78,604.27 L571.91,604.14 L572.48,603.48 L572.52,603.43 L573.92,601.65 L573.94,601.63 L574.25,601.22 L574.27,601.19 L575.55,599.36 L575.57,599.33 L575.86,598.89 L575.88,598.86 L577.04,596.98 L577.06,596.95 L577.33,596.49 L577.34,596.45 L578.38,594.53 L578.4,594.5 L578.64,594.01 L578.66,593.98 L579.58,592.02 L579.59,591.98 L579.81,591.47 L579.82,591.44 L580.62,589.43 L580.63,589.4 L580.82,588.87 L580.83,588.84 L581.5,586.79 L581.51,586.75 L581.67,586.22 L581.68,586.19 L582.23,584.09 L582.24,584.05 L582.36,583.52 L582.37,583.49 L582.8,581.35 L582.8,581.31 L582.89,580.78 L582.9,580.74 L583.2,578.56 L583.21,578.52 L583.27,578 L583.27,577.97 L583.45,575.74 L583.46,575.7 L583.48,575.19 L583.48,575.16 L583.52,573.93 L583.54,573.69 L583.54,573.69 L583.56,573.51 L583.6,572.63 L583.6,572.57 L583.6,520.53 L583.6,520.47 L583.56,519.59 L583.54,519.47 L583.42,518.63 L583.39,518.51 L583.19,517.69 L583.15,517.57 L582.87,516.77 L582.82,516.66 L582.46,515.89 L582.4,515.78 L581.96,515.05 L581.89,514.95 L581.39,514.27 L581.31,514.17 L580.74,513.55 L580.65,513.46 L580.03,512.89 L579.93,512.81 L579.25,512.31 L579.15,512.24 L578.42,511.8 L578.31,511.74 L577.54,511.38 L577.43,511.33 L576.63,511.05 L576.51,511.01 L575.69,510.81 L575.57,510.78 L574.73,510.66 L574.61,510.64 L573.76,510.6 L573.64,510.6 L572.79,510.64 L572.67,510.66 L571.83,510.78 L571.71,510.81 L570.89,511.01 L570.77,511.05 L569.97,511.33 L569.86,511.38 L569.09,511.74 L568.98,511.8 L568.25,512.24 L568.15,512.31 L567.47,512.81 L567.37,512.89 L566.75,513.46 L566.66,513.55 L566.09,514.17 L566.01,514.27 L565.51,514.95 L565.44,515.05 L565,515.78 L564.94,515.89 L564.58,516.66 L564.53,516.77 L564.25,517.57 L564.21,517.69 L564.01,518.51 L563.98,518.63 L563.86,519.47 L563.84,519.59 L563.8,520.47 L563.8,520.53 L563.8,572.57 L563.8,572.63 L563.83,573.12 L563.83,573.31 L563.8,574.31 L563.79,574.44 L563.66,576.02 L563.65,576.16 L563.44,577.68 L563.41,577.82 L563.12,579.29 L563.09,579.43 L562.71,580.85 L562.67,580.99 L562.22,582.38 L562.17,582.52 L561.63,583.87 L561.57,584.01 L560.95,585.34 L560.89,585.47 L560.18,586.78 L560.1,586.91 L559.3,588.21 L559.22,588.33 L558.31,589.63 L558.23,589.74 L557.03,591.26 L557,591.31 L556.71,591.71 L556.6,591.86 L472.48,693.22 L472.44,693.27 L471.92,693.96 L471.85,694.06 L471.41,694.78 L471.36,694.89 L470.99,695.64 L470.95,695.76 L470.66,696.55 L470.62,696.66 L470.41,697.48 L470.39,697.6 L470.26,698.43 L470.25,698.55 L470.2,699.38 L470.2,699.51 L470.24,700.35 L470.25,700.47 L470.37,701.3 L470.39,701.42 L470.59,702.23 L470.63,702.35 L470.91,703.14 L470.95,703.26 L471.31,704.02 L471.36,704.12 L471.79,704.85 L471.86,704.95 L472.35,705.63 L472.43,705.72 L472.99,706.35 L473.08,706.43 L473.7,707 L473.79,707.08 L474.46,707.58 L474.56,707.65 L475.28,708.09 L475.39,708.14 L476.14,708.51 L476.26,708.55 L477.05,708.84 L477.16,708.88 L477.98,709.09 L478.1,709.11 L478.93,709.24 L479.05,709.25 L479.88,709.3 L480.01,709.3 L480.85,709.26 L480.97,709.25 L481.8,709.13 L481.92,709.11 L482.73,708.91 L482.85,708.87 L483.64,708.59 L483.76,708.55 L484.52,708.19 L484.62,708.14 L485.35,707.71 L485.45,707.64 L486.13,707.15 L486.22,707.07 L486.85,706.51 L486.93,706.42 L487.52,705.78 L487.56,705.74 L571.62,604.45 Z" fill="#1c1c1c"/>
<path d="M562.64,590.95 L562.24,591.39 L561.76,591.72 L561.72,591.74 L561.29,592 L561.18,592.07 L560.78,592.37 L560.68,592.44 L560.3,592.78 L560.22,592.87 L559.85,593.26 L559.81,593.31 L475.09,695.39 L475.06,695.44 L474.74,695.87 L474.67,695.97 L474.4,696.4 L474.35,696.51 L474.13,696.96 L474.08,697.08 L473.91,697.55 L473.87,697.67 L473.75,698.16 L473.72,698.28 L473.64,698.78 L473.63,698.9 L473.6,699.4 L473.6,699.53 L473.62,700.03 L473.64,700.15 L473.71,700.65 L473.73,700.77 L473.85,701.26 L473.89,701.38 L474.05,701.86 L474.1,701.97 L474.31,702.43 L474.37,702.54 L474.63,702.97 L474.7,703.08 L474.99,703.48 L475.07,703.58 L475.41,703.95 L475.49,704.04 L475.87,704.38 L475.96,704.46 L476.37,704.76 L476.47,704.83 L476.9,705.1 L477.01,705.15 L477.46,705.37 L477.58,705.42 L478.05,705.59 L478.17,705.63 L478.66,705.75 L478.78,705.78 L479.28,705.86 L479.4,705.87 L479.9,705.9 L480.03,705.9 L480.53,705.88 L480.65,705.86 L481.15,705.79 L481.27,705.77 L481.76,705.65 L481.88,705.61 L482.36,705.45 L482.47,705.4 L482.93,705.19 L483.04,705.13 L483.47,704.87 L483.58,704.8 L483.98,704.51 L484.08,704.43 L484.45,704.09 L484.54,704.01 L484.9,703.61 L484.94,703.56 L569.66,601.48 L569.7,601.44 L570.02,601.01 L570.09,600.91 L570.35,600.47 L570.41,600.37 L570.63,599.91 L570.68,599.8 L570.85,599.32 L570.89,599.21 L571.01,598.72 L571.02,598.69 L571.17,598.2 L571.42,597.76 L572.03,596.89 L572.05,596.86 L572.2,596.63 L572.22,596.6 L573.38,594.72 L573.4,594.69 L573.54,594.44 L573.56,594.41 L574.6,592.49 L574.62,592.46 L574.75,592.19 L574.76,592.16 L575.68,590.2 L575.69,590.16 L575.81,589.89 L575.83,589.86 L576.62,587.85 L576.63,587.82 L576.73,587.54 L576.75,587.5 L577.42,585.45 L577.43,585.41 L577.51,585.13 L577.52,585.1 L578.07,583 L578.08,582.96 L578.14,582.68 L578.15,582.64 L578.58,580.5 L578.59,580.47 L578.63,580.18 L578.64,580.15 L578.95,577.96 L578.95,577.93 L578.98,577.65 L578.98,577.61 L579.17,575.38 L579.17,575.35 L579.18,575.08 L579.19,575.04 L579.25,572.78 L579.25,572.72 L579.24,572.27 L579.23,572.14 L579.18,571.72 L579.16,571.6 L579.07,571.19 L579.03,571.07 L578.9,570.67 L578.86,570.56 L578.69,570.17 L578.66,570.13 L578.47,569.58 L578.4,569.01 L578.4,520.53 L578.4,520.47 L578.38,520.1 L578.37,519.98 L578.32,519.64 L578.29,519.52 L578.21,519.2 L578.18,519.08 L578.06,518.76 L578.02,518.65 L577.87,518.34 L577.81,518.23 L577.64,517.94 L577.57,517.84 L577.37,517.57 L577.29,517.47 L577.06,517.22 L576.98,517.14 L576.73,516.91 L576.63,516.83 L576.36,516.63 L576.26,516.56 L575.97,516.39 L575.86,516.33 L575.55,516.18 L575.44,516.14 L575.12,516.02 L575,515.99 L574.68,515.91 L574.56,515.88 L574.22,515.83 L574.1,515.82 L573.76,515.8 L573.64,515.8 L573.3,515.82 L573.18,515.83 L572.84,515.88 L572.72,515.91 L572.4,515.99 L572.28,516.02 L571.96,516.14 L571.85,516.18 L571.54,516.33 L571.43,516.39 L571.14,516.56 L571.04,516.63 L570.77,516.83 L570.67,516.91 L570.42,517.14 L570.34,517.22 L570.11,517.47 L570.03,517.57 L569.83,517.84 L569.76,517.94 L569.59,518.23 L569.53,518.34 L569.38,518.65 L569.34,518.76 L569.22,519.08 L569.19,519.2 L569.11,519.52 L569.08,519.64 L569.03,519.98 L569.02,520.1 L569,520.47 L569,520.53 L569,569.01 L568.93,569.59 L568.73,570.14 L568.66,570.28 L568.61,570.4 L568.46,570.79 L568.42,570.91 L568.3,571.31 L568.28,571.43 L568.2,571.85 L568.19,571.97 L568.15,572.42 L568.15,572.48 L568.1,574.54 L568.09,574.68 L567.94,576.49 L567.92,576.64 L567.68,578.4 L567.65,578.54 L567.31,580.25 L567.28,580.4 L566.84,582.07 L566.8,582.21 L566.27,583.84 L566.21,583.98 L565.58,585.57 L565.53,585.71 L564.8,587.27 L564.73,587.4 L563.9,588.94 L563.83,589.07 L562.89,590.58 L562.81,590.7 Z" fill="#fff"/>
<circle cx="480.7" cy="696.4" r="3.2" fill="#fff" stroke="#1c1c1c" stroke-width="2.2"/>
<rect x="-16.86" y="-4.5" width="33.71" height="9" rx="3" fill="#fff" stroke="#1c1c1c" stroke-width="2.4" transform="translate(494.81,679.07) rotate(-50.85)"/>
<circle cx="508.67" cy="662.05" r="3" fill="#fff" stroke="#1c1c1c" stroke-width="2.2"/>
<rect x="-11.76" y="-4.5" width="23.52" height="9" rx="3" fill="#fff" stroke="#1c1c1c" stroke-width="2.4" transform="translate(519.31,648.98) rotate(-50.85)"/>
<circle cx="530.2" cy="635.6" r="3.1" fill="#fff" stroke="#1c1c1c" stroke-width="2.2"/>
<rect x="-28.62" y="-3.25" width="57.23" height="6.5" rx="3" fill="#fff" stroke="#1c1c1c" stroke-width="2.2" transform="translate(552.72,607.94) rotate(-50.85)"/>
<circle cx="573.7" cy="522.45" r="7.55" fill="#1c1c1c"/>
<circle cx="573.7" cy="524.4" r="4.8" fill="#fff" stroke="#1c1c1c" stroke-width="1.5"/>
<path d="M569.9,524.4 H577.5 M573.7,520.6 V528.2" stroke="#1c1c1c" stroke-width="1"/>
<circle cx="574.3" cy="579.5" r="4.8" fill="#fff" stroke="#1c1c1c" stroke-width="1.5"/>
<path d="M570.5,579.5 H578.1 M574.3,575.7 V583.3" stroke="#1c1c1c" stroke-width="1"/>
<path d="M732.59,330.06 L732.53,330.17 L731.77,331.45 L731.72,331.56 L731.09,332.91 L731.05,333.02 L730.79,333.78 L730.53,334.3 L730.24,334.76 L730.22,334.79 L729.08,336.68 L729.06,336.71 L728.64,337.46 L728.63,337.49 L727.61,339.42 L727.59,339.46 L727.21,340.23 L727.19,340.27 L726.29,342.25 L726.28,342.28 L725.94,343.09 L725.93,343.12 L725.15,345.14 L725.13,345.18 L724.84,346 L724.83,346.04 L724.17,348.1 L724.16,348.14 L723.92,348.98 L723.91,349.01 L723.37,351.12 L723.36,351.15 L723.17,352 L723.16,352.04 L722.74,354.18 L722.74,354.22 L722.6,355.06 L722.59,355.09 L722.29,357.29 L722.29,357.32 L722.2,358.15 L722.19,358.18 L722.01,360.42 L722.01,360.45 L721.97,361.26 L721.97,361.29 L721.91,363.56 L721.91,363.62 L721.94,365.06 L721.95,365.18 L722.12,366.58 L722.14,366.7 L722.44,368.07 L722.48,368.19 L722.58,368.49 L722.67,368.88 L722.7,369.27 L722.7,413.37 L722.7,413.43 L722.77,414.79 L722.78,414.91 L722.98,416.23 L723,416.35 L723.32,417.64 L723.36,417.75 L723.81,419.01 L723.85,419.12 L724.42,420.32 L724.48,420.43 L725.16,421.57 L725.23,421.67 L726.02,422.74 L726.1,422.83 L726.99,423.82 L727.08,423.91 L728.07,424.8 L728.16,424.88 L729.23,425.67 L729.33,425.74 L730.47,426.42 L730.58,426.48 L731.78,427.05 L731.89,427.09 L733.15,427.54 L733.26,427.58 L734.55,427.9 L734.67,427.92 L735.99,428.12 L736.11,428.13 L737.44,428.2 L737.56,428.2 L738.89,428.13 L739.01,428.12 L740.33,427.92 L740.45,427.9 L741.74,427.58 L741.85,427.54 L743.11,427.09 L743.22,427.05 L744.42,426.48 L744.53,426.42 L745.67,425.74 L745.77,425.67 L746.84,424.88 L746.93,424.8 L747.92,423.91 L748.01,423.82 L748.9,422.83 L748.98,422.74 L749.77,421.67 L749.84,421.57 L750.52,420.43 L750.58,420.32 L751.15,419.12 L751.19,419.01 L751.64,417.75 L751.68,417.64 L752,416.35 L752.02,416.23 L752.22,414.91 L752.23,414.79 L752.3,413.43 L752.3,413.37 L752.3,369.28 L752.39,368.6 L752.7,367.5 L752.73,367.39 L752.97,366 L752.98,365.88 L753.09,364.44 L753.1,364.38 L753.14,362.59 L753.15,362.45 L753.25,361.18 L753.27,361.04 L753.43,359.82 L753.46,359.68 L753.68,358.52 L753.72,358.38 L754,357.26 L754.04,357.12 L754.39,356.03 L754.44,355.89 L754.85,354.83 L754.91,354.7 L755.39,353.64 L755.45,353.51 L755.9,352.65 L756.21,352.2 L756.61,351.82 L756.75,351.71 L756.85,351.63 L757.94,350.62 L758.03,350.54 L759.03,349.4 L759.07,349.35 L830.36,260.81 L830.39,260.76 L831.29,259.53 L831.35,259.43 L832.1,258.15 L832.16,258.04 L832.78,256.69 L832.83,256.57 L833.32,255.17 L833.35,255.05 L833.7,253.61 L833.72,253.49 L833.93,252.01 L833.94,251.89 L834,250.41 L834,250.28 L833.91,248.8 L833.9,248.68 L833.66,247.21 L833.64,247.09 L833.26,245.65 L833.23,245.53 L832.71,244.14 L832.67,244.03 L832.02,242.69 L831.96,242.58 L831.18,241.31 L831.11,241.21 L830.22,240.03 L830.14,239.93 L829.13,238.84 L829.04,238.75 L827.93,237.77 L827.83,237.69 L826.63,236.81 L826.53,236.75 L825.25,236 L825.14,235.94 L823.79,235.32 L823.67,235.27 L822.27,234.78 L822.15,234.75 L820.71,234.4 L820.59,234.38 L819.11,234.17 L818.99,234.16 L817.51,234.1 L817.38,234.1 L815.9,234.19 L815.78,234.2 L814.31,234.44 L814.19,234.46 L812.75,234.84 L812.63,234.87 L811.24,235.39 L811.13,235.43 L809.79,236.08 L809.68,236.14 L808.41,236.92 L808.31,236.99 L807.13,237.88 L807.03,237.96 L805.94,238.97 L805.85,239.06 L804.85,240.19 L804.81,240.24 L733.52,328.79 L733.49,328.84 Z" fill="#1c1c1c"/>
<path d="M726.18,368.09 L726.27,368.47 L726.3,368.87 L726.3,413.37 L726.3,413.43 L726.35,414.44 L726.36,414.56 L726.51,415.52 L726.53,415.64 L726.77,416.59 L726.8,416.71 L727.13,417.63 L727.18,417.74 L727.6,418.62 L727.65,418.73 L728.16,419.57 L728.22,419.67 L728.81,420.46 L728.88,420.55 L729.54,421.27 L729.63,421.36 L730.35,422.02 L730.44,422.09 L731.23,422.68 L731.33,422.74 L732.17,423.25 L732.28,423.3 L733.16,423.72 L733.27,423.77 L734.19,424.1 L734.31,424.13 L735.26,424.37 L735.38,424.39 L736.34,424.54 L736.46,424.55 L737.44,424.6 L737.56,424.6 L738.54,424.55 L738.66,424.54 L739.62,424.39 L739.74,424.37 L740.69,424.13 L740.81,424.1 L741.73,423.77 L741.84,423.72 L742.72,423.3 L742.83,423.25 L743.67,422.74 L743.77,422.68 L744.56,422.09 L744.65,422.02 L745.37,421.36 L745.46,421.27 L746.12,420.55 L746.19,420.46 L746.78,419.67 L746.84,419.57 L747.35,418.73 L747.4,418.62 L747.82,417.74 L747.87,417.63 L748.2,416.71 L748.23,416.59 L748.47,415.64 L748.49,415.52 L748.64,414.56 L748.65,414.44 L748.7,413.43 L748.7,413.37 L748.7,368.87 L748.74,368.41 L748.87,367.97 L748.91,367.86 L748.95,367.74 L749.24,366.72 L749.26,366.6 L749.45,365.56 L749.46,365.44 L749.54,364.35 L749.55,364.29 L749.6,362.4 L749.6,362.26 L749.72,360.79 L749.74,360.65 L749.93,359.24 L749.95,359.1 L750.22,357.74 L750.25,357.6 L750.59,356.28 L750.63,356.14 L751.04,354.85 L751.09,354.71 L751.58,353.46 L751.63,353.32 L752.2,352.08 L752.26,351.95 L752.91,350.72 L752.98,350.6 L753.19,350.25 L753.47,349.87 L753.82,349.55 L754.51,349.03 L754.6,348.95 L755.44,348.17 L755.53,348.08 L756.31,347.21 L756.35,347.16 L827.63,258.61 L827.67,258.56 L828.36,257.62 L828.42,257.51 L829,256.53 L829.06,256.42 L829.54,255.38 L829.58,255.27 L829.96,254.19 L829.99,254.07 L830.26,252.96 L830.28,252.84 L830.44,251.7 L830.45,251.58 L830.5,250.44 L830.5,250.32 L830.43,249.18 L830.42,249.05 L830.24,247.92 L830.21,247.8 L829.92,246.7 L829.89,246.58 L829.49,245.51 L829.44,245.4 L828.95,244.37 L828.89,244.26 L828.29,243.28 L828.22,243.18 L827.53,242.27 L827.45,242.18 L826.68,241.34 L826.59,241.25 L825.74,240.49 L825.64,240.42 L824.72,239.74 L824.61,239.68 L823.63,239.1 L823.52,239.04 L822.48,238.56 L822.37,238.52 L821.29,238.14 L821.17,238.11 L820.06,237.84 L819.94,237.82 L818.8,237.66 L818.68,237.65 L817.54,237.6 L817.42,237.6 L816.28,237.67 L816.15,237.68 L815.02,237.86 L814.9,237.89 L813.8,238.18 L813.68,238.21 L812.61,238.61 L812.5,238.66 L811.47,239.15 L811.36,239.21 L810.38,239.81 L810.28,239.88 L809.37,240.57 L809.28,240.65 L808.44,241.42 L808.35,241.51 L807.57,242.39 L807.53,242.43 L736.25,330.98 L736.21,331.03 L735.52,331.98 L735.46,332.08 L734.88,333.07 L734.82,333.18 L734.34,334.21 L734.29,334.33 L733.9,335.47 L733.89,335.46 L733.63,336.05 L733.28,336.59 L733.26,336.62 L732.12,338.51 L732.1,338.54 L731.79,339.11 L731.77,339.14 L730.75,341.08 L730.73,341.11 L730.44,341.7 L730.43,341.74 L729.53,343.71 L729.51,343.75 L729.25,344.36 L729.24,344.4 L728.46,346.42 L728.45,346.45 L728.22,347.09 L728.21,347.12 L727.55,349.18 L727.54,349.22 L727.36,349.86 L727.35,349.9 L726.81,352 L726.8,352.04 L726.65,352.68 L726.65,352.72 L726.23,354.86 L726.22,354.9 L726.11,355.54 L726.11,355.58 L725.81,357.77 L725.8,357.8 L725.73,358.43 L725.73,358.47 L725.55,360.7 L725.55,360.74 L725.52,361.35 L725.51,361.39 L725.45,363.65 L725.45,363.71 L725.48,364.8 L725.49,364.93 L725.62,365.98 L725.64,366.1 L725.87,367.13 L725.9,367.25 Z" fill="#fff"/>
<path d="M728.67,365.51 L728.7,365.83 L728.7,413.37 L728.7,413.43 L728.74,414.2 L728.75,414.32 L728.86,415.06 L728.88,415.18 L729.06,415.89 L729.1,416.01 L729.35,416.71 L729.4,416.82 L729.71,417.49 L729.77,417.6 L730.15,418.24 L730.22,418.34 L730.66,418.93 L730.74,419.03 L731.24,419.58 L731.32,419.66 L731.87,420.16 L731.97,420.24 L732.56,420.68 L732.66,420.75 L733.3,421.13 L733.41,421.19 L734.08,421.5 L734.19,421.55 L734.89,421.8 L735.01,421.84 L735.72,422.02 L735.84,422.04 L736.58,422.15 L736.7,422.16 L737.44,422.2 L737.56,422.2 L738.3,422.16 L738.42,422.15 L739.16,422.04 L739.28,422.02 L739.99,421.84 L740.11,421.8 L740.81,421.55 L740.92,421.5 L741.59,421.19 L741.7,421.13 L742.34,420.75 L742.44,420.68 L743.03,420.24 L743.13,420.16 L743.68,419.66 L743.76,419.58 L744.26,419.03 L744.34,418.93 L744.78,418.34 L744.85,418.24 L745.23,417.6 L745.29,417.49 L745.6,416.82 L745.65,416.71 L745.9,416.01 L745.94,415.89 L746.12,415.18 L746.14,415.06 L746.25,414.32 L746.26,414.2 L746.3,413.43 L746.3,413.37 L746.3,365.79 L746.34,365.36 L746.37,365.17 L746.39,365.05 L746.44,364.27 L746.45,364.21 L746.5,362.23 L746.51,362.1 L746.64,360.46 L746.65,360.32 L746.87,358.73 L746.89,358.59 L747.2,357.05 L747.23,356.91 L747.61,355.42 L747.65,355.28 L748.12,353.82 L748.17,353.68 L748.72,352.25 L748.77,352.12 L749.41,350.72 L749.48,350.59 L750.21,349.2 L750.28,349.08 L751.1,347.7 L751.18,347.59 L752.1,346.22 L752.18,346.11 L752.3,345.95 L752.6,345.63 L752.73,345.51 L752.81,345.42 L753.35,344.82 L753.39,344.78 L824.67,256.23 L824.71,256.18 L825.18,255.53 L825.24,255.43 L825.63,254.77 L825.69,254.66 L826.01,253.96 L826.06,253.85 L826.31,253.12 L826.35,253 L826.53,252.25 L826.55,252.13 L826.66,251.37 L826.67,251.25 L826.7,250.48 L826.7,250.35 L826.65,249.58 L826.64,249.46 L826.52,248.7 L826.49,248.58 L826.3,247.84 L826.26,247.72 L826,247 L825.95,246.88 L825.61,246.19 L825.55,246.08 L825.15,245.43 L825.08,245.32 L824.62,244.71 L824.54,244.62 L824.02,244.05 L823.93,243.96 L823.35,243.45 L823.26,243.38 L822.63,242.92 L822.53,242.86 L821.87,242.47 L821.76,242.41 L821.06,242.09 L820.95,242.04 L820.22,241.79 L820.1,241.75 L819.35,241.57 L819.23,241.55 L818.47,241.44 L818.35,241.43 L817.58,241.4 L817.45,241.4 L816.68,241.45 L816.56,241.46 L815.8,241.58 L815.68,241.61 L814.94,241.8 L814.82,241.84 L814.1,242.1 L813.98,242.15 L813.29,242.49 L813.18,242.55 L812.53,242.95 L812.42,243.02 L811.81,243.48 L811.72,243.56 L811.15,244.08 L811.06,244.17 L810.53,244.77 L810.49,244.82 L739.21,333.36 L739.17,333.41 L738.7,334.06 L738.63,334.16 L738.21,334.88 L738.21,334.88 L738.04,335.13 L737.77,335.49 L737.75,335.52 L737.49,335.89 L737.47,335.91 L736.21,337.77 L736.19,337.8 L735.94,338.19 L735.92,338.22 L734.78,340.11 L734.76,340.14 L734.53,340.55 L734.51,340.59 L733.49,342.52 L733.47,342.55 L733.26,342.99 L733.25,343.02 L732.35,345 L732.33,345.03 L732.14,345.48 L732.13,345.51 L731.35,347.53 L731.34,347.57 L731.18,348.03 L731.16,348.06 L730.51,350.13 L730.49,350.16 L730.36,350.63 L730.35,350.67 L729.81,352.77 L729.8,352.81 L729.7,353.28 L729.69,353.31 L729.27,355.46 L729.26,355.49 L729.18,355.96 L729.18,356 L728.88,358.19 L728.87,358.22 L728.82,358.68 L728.82,358.72 L728.64,360.95 L728.64,360.99 L728.61,361.44 L728.61,361.47 L728.55,363.73 L728.55,363.79 L728.57,364.58 L728.58,364.7 L728.68,365.51 Z" fill="#1c1c1c"/>
<path d="M733.04,366.24 L733.23,366.79 L733.3,367.36 L733.3,413.37 L733.3,413.43 L733.32,413.75 L733.33,413.87 L733.37,414.16 L733.4,414.28 L733.47,414.56 L733.5,414.68 L733.6,414.95 L733.65,415.06 L733.77,415.32 L733.83,415.43 L733.98,415.68 L734.04,415.78 L734.22,416.02 L734.29,416.11 L734.49,416.32 L734.58,416.41 L734.79,416.61 L734.88,416.68 L735.12,416.86 L735.22,416.92 L735.47,417.07 L735.58,417.13 L735.84,417.25 L735.95,417.3 L736.22,417.4 L736.34,417.43 L736.62,417.5 L736.74,417.53 L737.03,417.57 L737.15,417.58 L737.44,417.6 L737.56,417.6 L737.85,417.58 L737.97,417.57 L738.26,417.53 L738.38,417.5 L738.66,417.43 L738.78,417.4 L739.05,417.3 L739.16,417.25 L739.42,417.13 L739.53,417.07 L739.78,416.92 L739.88,416.86 L740.12,416.68 L740.21,416.61 L740.42,416.41 L740.51,416.32 L740.71,416.11 L740.78,416.02 L740.96,415.78 L741.02,415.68 L741.17,415.43 L741.23,415.32 L741.35,415.06 L741.4,414.95 L741.5,414.68 L741.53,414.56 L741.6,414.28 L741.63,414.16 L741.67,413.87 L741.68,413.75 L741.7,413.43 L741.7,413.37 L741.7,367.36 L741.77,366.78 L741.97,366.23 L742.04,366.09 L742.09,365.98 L742.22,365.63 L742.26,365.52 L742.36,365.16 L742.39,365.04 L742.45,364.68 L742.47,364.56 L742.5,364.16 L742.5,364.1 L742.55,362.02 L742.56,361.89 L742.71,360.03 L742.73,359.89 L742.97,358.08 L743,357.94 L743.34,356.18 L743.37,356.04 L743.81,354.33 L743.85,354.18 L744.39,352.51 L744.44,352.37 L745.07,350.72 L745.13,350.59 L745.86,348.98 L745.93,348.85 L746.76,347.26 L746.83,347.14 L747.77,345.57 L747.85,345.46 L748.17,344.98 L748.56,344.53 L749.04,344.19 L749.11,344.15 L749.49,343.92 L749.6,343.85 L749.95,343.58 L750.05,343.5 L750.37,343.2 L750.46,343.11 L750.78,342.75 L750.82,342.71 L822.1,254.16 L822.14,254.11 L822.42,253.73 L822.48,253.62 L822.71,253.24 L822.77,253.13 L822.95,252.72 L823,252.61 L823.15,252.19 L823.18,252.07 L823.28,251.64 L823.31,251.52 L823.37,251.07 L823.38,250.95 L823.4,250.51 L823.4,250.38 L823.37,249.94 L823.36,249.82 L823.29,249.38 L823.26,249.26 L823.15,248.82 L823.11,248.71 L822.96,248.29 L822.91,248.17 L822.72,247.77 L822.66,247.67 L822.42,247.28 L822.35,247.18 L822.09,246.83 L822.01,246.73 L821.7,246.41 L821.62,246.32 L821.28,246.02 L821.19,245.95 L820.83,245.68 L820.72,245.62 L820.34,245.39 L820.23,245.33 L819.82,245.15 L819.71,245.1 L819.29,244.95 L819.17,244.92 L818.74,244.82 L818.62,244.79 L818.17,244.73 L818.05,244.72 L817.61,244.7 L817.48,244.7 L817.04,244.73 L816.92,244.74 L816.48,244.81 L816.36,244.84 L815.92,244.95 L815.81,244.99 L815.39,245.14 L815.27,245.19 L814.87,245.38 L814.77,245.44 L814.38,245.68 L814.28,245.75 L813.93,246.01 L813.83,246.09 L813.51,246.4 L813.42,246.48 L813.1,246.84 L813.06,246.89 L741.78,335.43 L741.74,335.48 L741.46,335.87 L741.4,335.97 L741.17,336.36 L741.11,336.46 L740.93,336.87 L740.88,336.98 L740.73,337.41 L740.7,337.52 L740.59,337.96 L740.59,337.98 L740.44,338.47 L740.2,338.92 L739.47,339.99 L739.45,340.02 L739.32,340.22 L739.3,340.25 L738.16,342.15 L738.15,342.18 L738.02,342.4 L738.01,342.43 L736.99,344.36 L736.97,344.4 L736.86,344.62 L736.84,344.66 L735.94,346.63 L735.93,346.67 L735.83,346.9 L735.82,346.94 L735.04,348.96 L735.02,348.99 L734.94,349.23 L734.93,349.27 L734.27,351.33 L734.26,351.37 L734.19,351.61 L734.18,351.65 L733.64,353.75 L733.63,353.79 L733.57,354.03 L733.56,354.07 L733.15,356.22 L733.14,356.25 L733.1,356.5 L733.09,356.53 L732.79,358.72 L732.79,358.76 L732.76,359 L732.76,359.03 L732.58,361.27 L732.58,361.3 L732.56,361.54 L732.56,361.57 L732.5,363.84 L732.5,363.9 L732.51,364.3 L732.52,364.42 L732.56,364.78 L732.59,364.91 L732.67,365.26 L732.7,365.38 L732.81,365.73 L732.86,365.85 L733.01,366.18 Z" fill="#fff"/>
<circle cx="819.5" cy="253.6" r="3" fill="#fff" stroke="#1c1c1c" stroke-width="2.2"/>
<rect x="-13.97" y="-4.25" width="27.94" height="8.5" rx="3" fill="#fff" stroke="#1c1c1c" stroke-width="2.3" transform="translate(807.74,268.05) rotate(129.14)"/>
<circle cx="795.98" cy="282.5" r="2.8" fill="#fff" stroke="#1c1c1c" stroke-width="2.2"/>
<rect x="-9.98" y="-4.25" width="19.96" height="8.5" rx="3" fill="#fff" stroke="#1c1c1c" stroke-width="2.3" transform="translate(786.74,293.85) rotate(129.14)"/>
<circle cx="777.5" cy="305.2" r="2.9" fill="#fff" stroke="#1c1c1c" stroke-width="2.2"/>
<rect x="-22.62" y="-2.75" width="45.24" height="5.5" rx="2.75" fill="#fff" stroke="#1c1c1c" stroke-width="2" transform="translate(759.02,327.9) rotate(129.14)"/>
<circle cx="737.15" cy="411.6" r="7.43" fill="#1c1c1c"/>
<circle cx="736.8" cy="356.4" r="4.8" fill="#fff" stroke="#1c1c1c" stroke-width="1.5"/>
<path d="M733,356.4 H740.6 M736.8,352.6 V360.2" stroke="#1c1c1c" stroke-width="1"/>
<circle cx="736.8" cy="409.8" r="4.8" fill="#fff" stroke="#1c1c1c" stroke-width="1.5"/>
<path d="M733,409.8 H740.6 M736.8,406 V413.6" stroke="#1c1c1c" stroke-width="1"/>
<path d="M751.73,511.61 L751.72,511.49 L751.52,510.17 L751.5,510.05 L751.18,508.76 L751.14,508.65 L750.69,507.39 L750.65,507.28 L750.08,506.08 L750.02,505.97 L749.34,504.83 L749.27,504.73 L748.48,503.66 L748.4,503.57 L747.51,502.58 L747.42,502.49 L746.43,501.6 L746.34,501.52 L745.27,500.73 L745.17,500.66 L744.03,499.98 L743.92,499.92 L742.72,499.35 L742.61,499.31 L741.35,498.86 L741.24,498.82 L739.95,498.5 L739.83,498.48 L738.51,498.28 L738.39,498.27 L737.06,498.2 L736.94,498.2 L735.61,498.27 L735.49,498.28 L734.17,498.48 L734.05,498.5 L732.76,498.82 L732.65,498.86 L731.39,499.31 L731.28,499.35 L730.08,499.92 L729.97,499.98 L728.83,500.66 L728.73,500.73 L727.66,501.52 L727.57,501.6 L726.58,502.49 L726.49,502.58 L725.6,503.57 L725.52,503.66 L724.73,504.73 L724.66,504.83 L723.98,505.97 L723.92,506.08 L723.35,507.28 L723.31,507.39 L722.86,508.65 L722.82,508.76 L722.5,510.05 L722.48,510.17 L722.28,511.49 L722.27,511.61 L722.2,512.97 L722.2,513.03 L722.2,552.73 L722.17,553.12 L722.08,553.51 L721.98,553.81 L721.94,553.93 L721.64,555.3 L721.62,555.42 L721.45,556.82 L721.44,556.95 L721.41,558.38 L721.41,558.44 L721.47,560.71 L721.47,560.74 L721.51,561.56 L721.51,561.59 L721.7,563.82 L721.7,563.86 L721.79,564.69 L721.79,564.73 L722.1,566.92 L722.1,566.95 L722.24,567.8 L722.25,567.84 L722.67,569.98 L722.68,570.02 L722.88,570.87 L722.88,570.91 L723.43,573.01 L723.44,573.04 L723.68,573.89 L723.69,573.93 L724.36,575.99 L724.37,576.02 L724.67,576.86 L724.68,576.89 L725.47,578.91 L725.48,578.94 L725.82,579.76 L725.84,579.79 L726.74,581.76 L726.76,581.79 L727.15,582.58 L727.17,582.61 L728.19,584.54 L728.21,584.57 L728.63,585.32 L728.65,585.35 L729.8,587.24 L729.82,587.27 L730.12,587.73 L730.38,588.25 L730.65,589.02 L730.69,589.13 L731.32,590.48 L731.38,590.58 L732.14,591.86 L732.21,591.96 L733.11,593.19 L733.14,593.24 L803.26,679.33 L803.3,679.38 L804.32,680.51 L804.41,680.59 L805.5,681.6 L805.6,681.68 L806.79,682.57 L806.89,682.63 L808.16,683.4 L808.27,683.46 L809.61,684.1 L809.73,684.15 L811.12,684.65 L811.24,684.69 L812.68,685.06 L812.8,685.08 L814.27,685.31 L814.39,685.32 L815.88,685.4 L816,685.4 L817.49,685.33 L817.61,685.32 L819.08,685.11 L819.2,685.08 L820.64,684.73 L820.76,684.69 L822.16,684.2 L822.27,684.15 L823.62,683.52 L823.73,683.46 L825.01,682.7 L825.11,682.63 L826.31,681.75 L826.4,681.68 L827.51,680.68 L827.59,680.59 L828.6,679.5 L828.68,679.4 L829.57,678.21 L829.63,678.11 L830.4,676.84 L830.46,676.73 L831.1,675.39 L831.15,675.27 L831.65,673.88 L831.69,673.76 L832.06,672.32 L832.08,672.2 L832.31,670.73 L832.32,670.61 L832.4,669.12 L832.4,669 L832.33,667.51 L832.32,667.39 L832.11,665.92 L832.08,665.8 L831.73,664.36 L831.69,664.24 L831.2,662.84 L831.15,662.73 L830.52,661.38 L830.46,661.27 L829.7,659.99 L829.63,659.89 L828.73,658.67 L828.7,658.62 L758.58,572.52 L758.54,572.48 L757.52,571.35 L757.44,571.26 L756.34,570.26 L756.24,570.18 L756.11,570.08 L755.71,569.7 L755.4,569.25 L754.95,568.41 L754.89,568.28 L754.41,567.24 L754.35,567.1 L753.94,566.05 L753.89,565.91 L753.55,564.84 L753.5,564.7 L753.22,563.59 L753.19,563.45 L752.96,562.3 L752.93,562.16 L752.77,560.95 L752.75,560.81 L752.65,559.54 L752.64,559.4 L752.6,557.62 L752.59,557.56 L752.48,556.12 L752.47,556 L752.22,554.61 L752.2,554.49 L751.89,553.41 L751.8,552.73 L751.8,513.03 L751.8,512.97 Z" fill="#1c1c1c"/>
<path d="M725.8,553.13 L725.77,553.52 L725.68,553.91 L725.4,554.75 L725.37,554.87 L725.14,555.9 L725.12,556.02 L724.99,557.08 L724.98,557.2 L724.95,558.29 L724.96,558.35 L725.02,560.61 L725.02,560.65 L725.05,561.27 L725.05,561.3 L725.23,563.54 L725.24,563.57 L725.31,564.21 L725.31,564.24 L725.61,566.43 L725.62,566.47 L725.73,567.12 L725.73,567.15 L726.16,569.3 L726.16,569.33 L726.31,569.98 L726.32,570.02 L726.86,572.12 L726.87,572.16 L727.06,572.8 L727.07,572.84 L727.74,574.9 L727.75,574.93 L727.98,575.57 L727.99,575.6 L728.77,577.62 L728.79,577.65 L729.05,578.27 L729.07,578.31 L729.97,580.28 L729.99,580.31 L730.28,580.91 L730.3,580.94 L731.33,582.87 L731.34,582.91 L731.67,583.48 L731.69,583.51 L732.83,585.4 L732.85,585.42 L733.21,585.97 L733.48,586.56 L733.48,586.55 L733.88,587.69 L733.93,587.8 L734.42,588.84 L734.47,588.95 L735.06,589.93 L735.12,590.03 L735.82,590.98 L735.86,591.03 L805.98,677.12 L806.02,677.17 L806.8,678.04 L806.89,678.13 L807.73,678.9 L807.83,678.98 L808.74,679.66 L808.85,679.73 L809.82,680.32 L809.93,680.38 L810.96,680.87 L811.08,680.92 L812.15,681.31 L812.27,681.35 L813.38,681.63 L813.5,681.65 L814.63,681.82 L814.75,681.84 L815.89,681.9 L816.01,681.9 L817.16,681.85 L817.28,681.83 L818.41,681.67 L818.53,681.65 L819.64,681.37 L819.76,681.34 L820.83,680.96 L820.95,680.91 L821.98,680.43 L822.09,680.37 L823.07,679.78 L823.18,679.72 L824.1,679.04 L824.19,678.96 L825.04,678.2 L825.13,678.11 L825.9,677.27 L825.98,677.17 L826.66,676.26 L826.73,676.15 L827.32,675.18 L827.38,675.07 L827.87,674.04 L827.92,673.92 L828.31,672.85 L828.35,672.73 L828.63,671.62 L828.65,671.5 L828.82,670.37 L828.84,670.25 L828.9,669.11 L828.9,668.99 L828.85,667.84 L828.83,667.72 L828.67,666.59 L828.65,666.47 L828.37,665.36 L828.34,665.24 L827.96,664.17 L827.91,664.05 L827.43,663.02 L827.37,662.91 L826.78,661.93 L826.72,661.82 L826.02,660.88 L825.98,660.83 L755.86,574.73 L755.82,574.69 L755.04,573.81 L754.95,573.73 L754.11,572.96 L754.01,572.88 L753.33,572.37 L752.98,572.05 L752.69,571.66 L752.49,571.33 L752.42,571.2 L751.77,569.99 L751.7,569.85 L751.14,568.63 L751.08,568.49 L750.6,567.24 L750.55,567.1 L750.13,565.83 L750.09,565.69 L749.76,564.38 L749.72,564.24 L749.46,562.88 L749.43,562.74 L749.24,561.34 L749.22,561.2 L749.1,559.73 L749.1,559.6 L749.05,557.71 L749.04,557.65 L748.96,556.56 L748.95,556.44 L748.76,555.4 L748.74,555.28 L748.45,554.26 L748.41,554.14 L748.37,554.03 L748.24,553.59 L748.2,553.13 L748.2,513.03 L748.2,512.97 L748.15,511.96 L748.14,511.84 L747.99,510.88 L747.97,510.76 L747.73,509.81 L747.7,509.69 L747.37,508.77 L747.32,508.66 L746.9,507.78 L746.85,507.67 L746.34,506.83 L746.28,506.73 L745.69,505.94 L745.62,505.85 L744.96,505.13 L744.87,505.04 L744.15,504.38 L744.06,504.31 L743.27,503.72 L743.17,503.66 L742.33,503.15 L742.22,503.1 L741.34,502.68 L741.23,502.63 L740.31,502.3 L740.19,502.27 L739.24,502.03 L739.12,502.01 L738.16,501.86 L738.04,501.85 L737.06,501.8 L736.94,501.8 L735.96,501.85 L735.84,501.86 L734.88,502.01 L734.76,502.03 L733.81,502.27 L733.69,502.3 L732.77,502.63 L732.66,502.68 L731.78,503.1 L731.67,503.15 L730.83,503.66 L730.73,503.72 L729.94,504.31 L729.85,504.38 L729.13,505.04 L729.04,505.13 L728.38,505.85 L728.31,505.94 L727.72,506.73 L727.66,506.83 L727.15,507.67 L727.1,507.78 L726.68,508.66 L726.63,508.77 L726.3,509.69 L726.27,509.81 L726.03,510.76 L726.01,510.88 L725.86,511.84 L725.85,511.96 L725.8,512.97 L725.8,513.03 Z" fill="#fff"/>
<path d="M728.17,556.49 L728.18,556.49 L728.08,557.3 L728.07,557.42 L728.05,558.21 L728.05,558.27 L728.11,560.53 L728.12,560.57 L728.14,561.02 L728.14,561.05 L728.32,563.29 L728.33,563.32 L728.38,563.79 L728.38,563.82 L728.68,566.01 L728.69,566.04 L728.77,566.52 L728.77,566.55 L729.2,568.7 L729.21,568.73 L729.31,569.21 L729.32,569.24 L729.87,571.34 L729.88,571.38 L730.01,571.85 L730.02,571.89 L730.69,573.94 L730.7,573.98 L730.86,574.44 L730.88,574.48 L731.66,576.49 L731.68,576.53 L731.87,576.98 L731.88,577.01 L732.79,578.99 L732.8,579.02 L733.02,579.46 L733.04,579.49 L734.06,581.42 L734.08,581.45 L734.32,581.87 L734.34,581.9 L735.48,583.78 L735.5,583.81 L735.76,584.21 L735.78,584.24 L737.04,586.08 L737.06,586.11 L737.33,586.48 L737.35,586.5 L737.63,586.86 L737.8,587.11 L738.22,587.83 L738.29,587.93 L738.77,588.58 L738.8,588.63 L808.92,674.72 L808.96,674.77 L809.5,675.36 L809.59,675.45 L810.16,675.97 L810.25,676.05 L810.87,676.51 L810.97,676.58 L811.63,676.98 L811.74,677.04 L812.43,677.37 L812.54,677.42 L813.27,677.68 L813.39,677.71 L814.13,677.9 L814.25,677.93 L815.01,678.04 L815.14,678.06 L815.9,678.1 L816.03,678.1 L816.8,678.06 L816.92,678.05 L817.68,677.94 L817.8,677.92 L818.55,677.73 L818.67,677.7 L819.39,677.44 L819.51,677.39 L820.2,677.07 L820.31,677.01 L820.97,676.62 L821.08,676.55 L821.7,676.09 L821.79,676.01 L822.36,675.5 L822.45,675.41 L822.97,674.84 L823.05,674.75 L823.51,674.13 L823.58,674.03 L823.98,673.37 L824.04,673.26 L824.37,672.57 L824.42,672.46 L824.68,671.73 L824.71,671.61 L824.9,670.87 L824.93,670.75 L825.04,669.99 L825.06,669.86 L825.1,669.1 L825.1,668.97 L825.06,668.2 L825.05,668.08 L824.94,667.32 L824.92,667.2 L824.73,666.45 L824.7,666.33 L824.44,665.61 L824.39,665.49 L824.07,664.8 L824.01,664.69 L823.62,664.03 L823.55,663.92 L823.07,663.28 L823.04,663.23 L752.92,577.13 L752.88,577.09 L752.34,576.49 L752.25,576.4 L752.12,576.28 L751.83,575.96 L751.71,575.81 L751.63,575.7 L750.7,574.34 L750.62,574.22 L749.79,572.86 L749.72,572.74 L748.99,571.36 L748.92,571.23 L748.28,569.84 L748.23,569.7 L747.67,568.28 L747.62,568.14 L747.16,566.69 L747.12,566.55 L746.73,565.07 L746.7,564.92 L746.4,563.4 L746.37,563.25 L746.16,561.67 L746.14,561.53 L746.01,559.9 L746,559.76 L745.95,557.79 L745.94,557.73 L745.89,556.95 L745.87,556.83 L745.84,556.64 L745.8,556.21 L745.8,513.03 L745.8,512.97 L745.76,512.2 L745.75,512.08 L745.64,511.34 L745.62,511.22 L745.44,510.51 L745.4,510.39 L745.15,509.69 L745.1,509.58 L744.79,508.91 L744.73,508.8 L744.35,508.16 L744.28,508.06 L743.84,507.47 L743.76,507.37 L743.26,506.82 L743.18,506.74 L742.63,506.24 L742.53,506.16 L741.94,505.72 L741.84,505.65 L741.2,505.27 L741.09,505.21 L740.42,504.9 L740.31,504.85 L739.61,504.6 L739.49,504.56 L738.78,504.38 L738.66,504.36 L737.92,504.25 L737.8,504.24 L737.06,504.2 L736.94,504.2 L736.2,504.24 L736.08,504.25 L735.34,504.36 L735.22,504.38 L734.51,504.56 L734.39,504.6 L733.69,504.85 L733.58,504.9 L732.91,505.21 L732.8,505.27 L732.16,505.65 L732.06,505.72 L731.47,506.16 L731.37,506.24 L730.82,506.74 L730.74,506.82 L730.24,507.37 L730.16,507.47 L729.72,508.06 L729.65,508.16 L729.27,508.8 L729.21,508.91 L728.9,509.58 L728.85,509.69 L728.6,510.39 L728.56,510.51 L728.38,511.22 L728.36,511.34 L728.25,512.08 L728.24,512.2 L728.2,512.97 L728.2,513.03 L728.2,556.17 Z" fill="#1c1c1c"/>
<path d="M732.8,554.64 L732.73,555.21 L732.54,555.76 L732.5,555.82 L732.36,556.15 L732.31,556.27 L732.2,556.62 L732.17,556.74 L732.09,557.1 L732.06,557.22 L732.02,557.58 L732.01,557.7 L732,558.1 L732,558.16 L732.06,560.43 L732.06,560.46 L732.08,560.7 L732.08,560.73 L732.26,562.97 L732.26,563 L732.29,563.25 L732.29,563.28 L732.6,565.47 L732.6,565.5 L732.64,565.75 L732.65,565.79 L733.07,567.93 L733.08,567.97 L733.14,568.22 L733.15,568.25 L733.69,570.35 L733.7,570.39 L733.77,570.64 L733.78,570.67 L734.45,572.73 L734.46,572.77 L734.54,573.01 L734.56,573.05 L735.34,575.06 L735.36,575.09 L735.46,575.33 L735.47,575.37 L736.38,577.34 L736.39,577.37 L736.51,577.6 L736.52,577.63 L737.55,579.56 L737.57,579.59 L737.69,579.81 L737.71,579.84 L738.86,581.73 L738.88,581.76 L739.01,581.97 L739.03,582 L739.76,583.07 L740.01,583.52 L740.16,584 L740.16,584.03 L740.27,584.46 L740.3,584.58 L740.45,585 L740.5,585.11 L740.69,585.51 L740.75,585.62 L740.98,586.01 L741.04,586.11 L741.33,586.49 L741.36,586.54 L811.48,672.64 L811.52,672.69 L811.84,673.04 L811.93,673.13 L812.26,673.43 L812.35,673.51 L812.71,673.77 L812.81,673.84 L813.19,674.07 L813.3,674.13 L813.71,674.32 L813.82,674.37 L814.24,674.52 L814.36,674.56 L814.79,674.67 L814.91,674.69 L815.35,674.76 L815.47,674.77 L815.92,674.8 L816.04,674.8 L816.49,674.78 L816.61,674.77 L817.05,674.7 L817.17,674.68 L817.6,674.57 L817.72,674.54 L818.14,674.39 L818.26,674.34 L818.66,674.15 L818.77,674.09 L819.15,673.87 L819.25,673.8 L819.61,673.53 L819.71,673.46 L820.04,673.16 L820.13,673.07 L820.43,672.74 L820.51,672.65 L820.77,672.29 L820.84,672.19 L821.07,671.81 L821.13,671.7 L821.32,671.29 L821.37,671.18 L821.52,670.76 L821.56,670.64 L821.67,670.21 L821.69,670.09 L821.76,669.65 L821.77,669.53 L821.8,669.08 L821.8,668.96 L821.78,668.51 L821.77,668.39 L821.7,667.95 L821.68,667.83 L821.57,667.4 L821.54,667.28 L821.39,666.86 L821.34,666.74 L821.15,666.34 L821.09,666.23 L820.87,665.85 L820.8,665.75 L820.52,665.36 L820.48,665.31 L750.36,579.22 L750.32,579.17 L750,578.82 L749.91,578.73 L749.58,578.43 L749.49,578.35 L749.13,578.08 L749.03,578.01 L748.65,577.78 L748.58,577.75 L748.1,577.41 L747.71,576.97 L747.38,576.49 L747.3,576.37 L746.36,574.82 L746.29,574.69 L745.45,573.11 L745.38,572.98 L744.64,571.38 L744.59,571.24 L743.95,569.61 L743.9,569.47 L743.36,567.8 L743.32,567.65 L742.88,565.94 L742.85,565.8 L742.5,564.05 L742.48,563.91 L742.23,562.1 L742.21,561.96 L742.06,560.11 L742.05,559.97 L742,557.9 L742,557.84 L741.97,557.44 L741.95,557.32 L741.89,556.96 L741.86,556.84 L741.76,556.48 L741.72,556.36 L741.59,556.02 L741.54,555.91 L741.47,555.77 L741.27,555.22 L741.2,554.64 L741.2,513.03 L741.2,512.97 L741.18,512.65 L741.17,512.53 L741.13,512.24 L741.1,512.12 L741.03,511.84 L741,511.72 L740.9,511.45 L740.85,511.34 L740.73,511.08 L740.67,510.97 L740.52,510.72 L740.46,510.62 L740.28,510.38 L740.21,510.29 L740.01,510.08 L739.92,509.99 L739.71,509.79 L739.62,509.72 L739.38,509.54 L739.28,509.48 L739.03,509.33 L738.92,509.27 L738.66,509.15 L738.55,509.1 L738.28,509 L738.16,508.97 L737.88,508.9 L737.76,508.87 L737.47,508.83 L737.35,508.82 L737.06,508.8 L736.94,508.8 L736.65,508.82 L736.53,508.83 L736.24,508.87 L736.12,508.9 L735.84,508.97 L735.72,509 L735.45,509.1 L735.34,509.15 L735.08,509.27 L734.97,509.33 L734.72,509.48 L734.62,509.54 L734.38,509.72 L734.29,509.79 L734.08,509.99 L733.99,510.08 L733.79,510.29 L733.72,510.38 L733.54,510.62 L733.48,510.72 L733.33,510.97 L733.27,511.08 L733.15,511.34 L733.1,511.45 L733,511.72 L732.97,511.84 L732.9,512.12 L732.87,512.24 L732.83,512.53 L732.82,512.65 L732.8,512.97 L732.8,513.03 Z" fill="#fff"/>
<circle cx="819" cy="667" r="3" fill="#fff" stroke="#1c1c1c" stroke-width="2.2"/>
<rect x="-13.63" y="-4.25" width="27.26" height="8.5" rx="3" fill="#fff" stroke="#1c1c1c" stroke-width="2.3" transform="translate(807.18,653.2) rotate(-130.56)"/>
<circle cx="795.37" cy="639.39" r="2.8" fill="#fff" stroke="#1c1c1c" stroke-width="2.2"/>
<rect x="-9.73" y="-4.25" width="19.47" height="8.5" rx="3" fill="#fff" stroke="#1c1c1c" stroke-width="2.3" transform="translate(786.08,628.55) rotate(-130.56)"/>
<circle cx="776.8" cy="617.7" r="2.9" fill="#fff" stroke="#1c1c1c" stroke-width="2.2"/>
<rect x="-22.06" y="-2.75" width="44.13" height="5.5" rx="2.75" fill="#fff" stroke="#1c1c1c" stroke-width="2" transform="translate(758.23,596.01) rotate(-130.56)"/>
<circle cx="736.9" cy="513.85" r="6.46" fill="#1c1c1c"/>
<circle cx="736.8" cy="514.7" r="4.8" fill="#fff" stroke="#1c1c1c" stroke-width="1.5"/>
<path d="M733,514.7 H740.6 M736.8,510.9 V518.5" stroke="#1c1c1c" stroke-width="1"/>
<circle cx="736.8" cy="569" r="4.8" fill="#fff" stroke="#1c1c1c" stroke-width="1.5"/>
<path d="M733,569 H740.6 M736.8,565.2 V572.8" stroke="#1c1c1c" stroke-width="1"/>
<path d="M141.04,359.5 A29.5,19.5 0 1 0 174.76,359.5" fill="none" stroke="#cc2e78" stroke-width="1.6"/>
<path d="M144.67,357.83 L139.64,362.45 L137.89,358.64 Z" fill="#cc2e78"/>
<path d="M171.13,357.83 L177.91,358.64 L176.16,362.45 Z" fill="#cc2e78"/>
<text x="139" y="385.5" font-size="23" fill="#cc2e78" textLength="42.8" lengthAdjust="spacingAndGlyphs">180°</text>
<path d="M256.52,360.8 A29.5,19.2 0 1 0 286.68,360.8" fill="none" stroke="#cc2e78" stroke-width="1.6"/>
<path d="M260.25,359.36 L254.94,363.66 L253.43,359.74 Z" fill="#cc2e78"/>
<path d="M282.95,359.36 L289.77,359.74 L288.26,363.66 Z" fill="#cc2e78"/>
<text x="250.2" y="387.2" font-size="23" fill="#cc2e78" textLength="44.8" lengthAdjust="spacingAndGlyphs">350°</text>
<path d="M435.24,406.5 A30,20.5 0 1 0 472.76,406.5" fill="none" stroke="#cc2e78" stroke-width="1.6"/>
<path d="M438.75,404.58 L434.06,409.54 L432.04,405.86 Z" fill="#cc2e78"/>
<path d="M469.25,404.58 L475.96,405.86 L473.94,409.54 Z" fill="#cc2e78"/>
<text x="432.7" y="433.2" font-size="23" fill="#cc2e78" textLength="45.9" lengthAdjust="spacingAndGlyphs">350°</text>
<path d="M543.44,460.5 A29.5,19.5 0 1 0 577.16,460.5" fill="none" stroke="#cc2e78" stroke-width="1.6"/>
<path d="M547.07,458.83 L542.04,463.45 L540.29,459.64 Z" fill="#cc2e78"/>
<path d="M573.53,458.83 L580.31,459.64 L578.56,463.45 Z" fill="#cc2e78"/>
<text x="541.2" y="485.9" font-size="23" fill="#cc2e78" textLength="42.8" lengthAdjust="spacingAndGlyphs">180°</text>
<circle cx="669.6" cy="655.6" r="29" fill="none" stroke="#cc2e78" stroke-width="1.6"/>
<path d="M664.5,627.2 L659.75,629.58 L659.32,626.01 Z" fill="#cc2e78"/>
<path d="M668.5,626.8 L673.58,625.25 L673.4,628.85 Z" fill="#cc2e78"/>
<path d="M647.7,630 V637" fill="none" stroke="#1c1c1c" stroke-width="1.3"/>
<text x="647.7" y="663.8" font-size="23" fill="#cc2e78" textLength="44.8" lengthAdjust="spacingAndGlyphs">360°</text>
<path d="M913.5,441.5 A32.67,32.67 0 0 1 910,500" fill="none" stroke="#cc2e78" stroke-width="1.7"/>
<path d="M909.59,439.27 L916.81,440.74 L914.53,444.74 Z" fill="#cc2e78"/>
<path d="M905.85,501.74 L911.41,496.91 L913.2,501.15 Z" fill="#cc2e78"/>
<text x="932.5" y="451.9" font-size="18.2" fill="#cc2e78" textLength="36.5" lengthAdjust="spacingAndGlyphs">+20°</text>
<text x="932" y="501.5" font-size="18.2" fill="#cc2e78" textLength="30.8" lengthAdjust="spacingAndGlyphs">-20°</text>
</svg>
</body></html>
